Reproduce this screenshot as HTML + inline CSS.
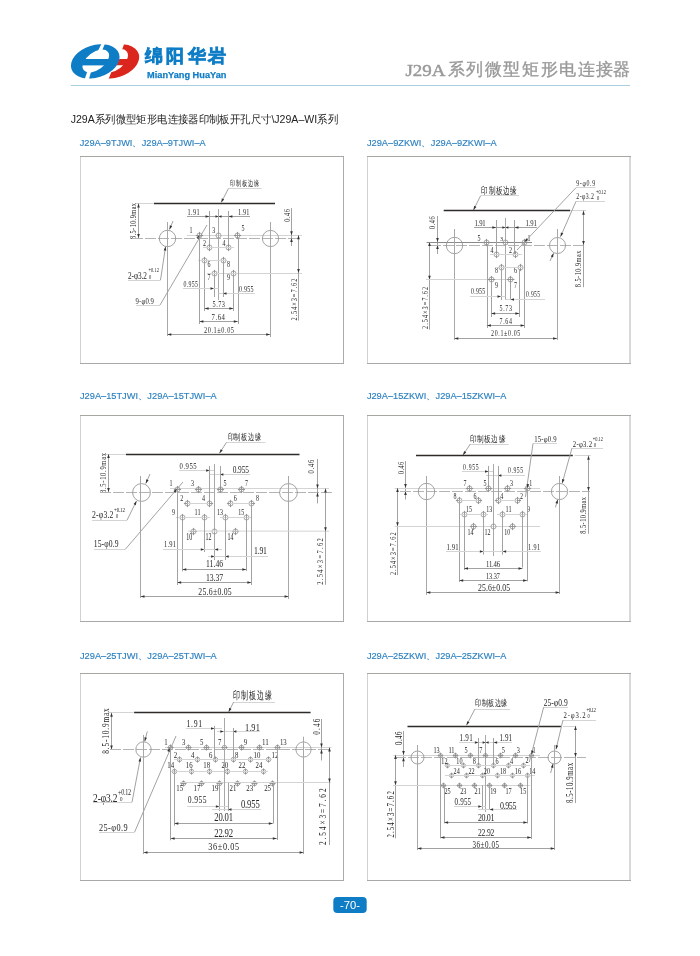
<!DOCTYPE html><html><head><meta charset="utf-8"><style>html,body{margin:0;padding:0;background:#fff;}svg{display:block;will-change:transform}</style></head><body><svg width="700" height="956" viewBox="0 0 700 956"><defs><mask id="mb"><rect x="60" y="35" width="90" height="50" fill="#fff"/><ellipse cx="95.9" cy="61.2" rx="15.2" ry="8.8" transform="rotate(-19 95.9 61.2)" fill="#000"/></mask><mask id="mr"><rect x="60" y="35" width="90" height="50" fill="#fff"/><ellipse cx="114.9" cy="60.8" rx="15.2" ry="9.0" transform="rotate(-20 114.9 60.8)" fill="#000"/></mask><clipPath id="cr"><polygon points="125.5,40 150,40 150,84 107.6,81.5 112.2,70 121.9,50.3"/></clipPath></defs>
<g clip-path="url(#cr)"><ellipse cx="114.85" cy="61.4" rx="25" ry="16.2" transform="rotate(-17.7 114.85 61.4)" fill="#da261d" mask="url(#mr)"/></g>
<polygon points="119.3,59 130,59 130,65.2 116.4,65.2" fill="#da261d"/>
<ellipse cx="95.25" cy="61.4" rx="25" ry="16.2" transform="rotate(-17.7 95.25 61.4)" fill="#0f7dc6" mask="url(#mb)"/>
<rect x="78" y="59" width="33" height="6.4" fill="#0f7dc6"/>
<polygon points="102.35,42 105.6,42 101.5,52 97.35,52" fill="#fff"/>
<polygon points="87.8,70 91.5,70 88.7,80 84.4,80" fill="#fff"/>
<text x="145.2 166.4 187.6 208.2" y="61.9" font-family="Liberation Sans" font-weight="bold" font-size="18.2" fill="#0f7dc6" stroke="#0f7dc6" stroke-width="0.7">绵阳华岩</text>
<text x="147.1" y="77.9" font-family="Liberation Sans" font-weight="bold" font-size="9.9" fill="#0f7dc6" stroke="#0f7dc6" stroke-width="0.25" textLength="79.3" lengthAdjust="spacingAndGlyphs">MianYang HuaYan</text>
<line x1="71" y1="85.5" x2="630" y2="85.5" stroke="#a9cedd" stroke-width="1"/>
<text x="405.5" y="76.2" font-family="Liberation Serif" font-weight="normal" font-size="17.4" fill="#9a9a9a" stroke="#9a9a9a" stroke-width="0.5" textLength="40" lengthAdjust="spacingAndGlyphs">J29A</text>
<text x="447.5 466.1 484.7 503.3 521.9 540.5 559.1 577.7 596.3" y="75.2" font-family="Liberation Serif" font-weight="normal" font-size="16.9" fill="#999" stroke="#999" stroke-width="0.35">系列微型矩形电连接器</text>
<text x="70.7" y="123.2" font-family="Liberation Sans" font-size="11.2" fill="#222" textLength="267.3" lengthAdjust="spacingAndGlyphs">J29A系列微型矩形电连接器印制板开孔尺寸\J29A–WI系列</text>
<text x="79.7" y="145.6" font-family="Liberation Sans" font-size="9.9" fill="#2b80c0" stroke="#2b80c0" stroke-width="0.15" textLength="126" lengthAdjust="spacingAndGlyphs">J29A–9TJWI、J29A–9TJWI–A</text>
<text x="366.9" y="145.5" font-family="Liberation Sans" font-size="9.9" fill="#2b80c0" stroke="#2b80c0" stroke-width="0.15" textLength="129.8" lengthAdjust="spacingAndGlyphs">J29A–9ZKWI、J29A–9ZKWI–A</text>
<text x="80" y="398.9" font-family="Liberation Sans" font-size="9.9" fill="#2b80c0" stroke="#2b80c0" stroke-width="0.15" textLength="136.7" lengthAdjust="spacingAndGlyphs">J29A–15TJWI、J29A–15TJWI–A</text>
<text x="366.9" y="399.2" font-family="Liberation Sans" font-size="9.9" fill="#2b80c0" stroke="#2b80c0" stroke-width="0.15" textLength="139.4" lengthAdjust="spacingAndGlyphs">J29A–15ZKWI、J29A–15ZKWI–A</text>
<text x="80" y="658.7" font-family="Liberation Sans" font-size="9.9" fill="#2b80c0" stroke="#2b80c0" stroke-width="0.15" textLength="136.7" lengthAdjust="spacingAndGlyphs">J29A–25TJWI、J29A–25TJWI–A</text>
<text x="366.9" y="659" font-family="Liberation Sans" font-size="9.9" fill="#2b80c0" stroke="#2b80c0" stroke-width="0.15" textLength="139.4" lengthAdjust="spacingAndGlyphs">J29A–25ZKWI、J29A–25ZKWI–A</text>
<line x1="80" y1="156.5" x2="344" y2="156.5" stroke="#a6a6a3" stroke-width="1"/>
<line x1="80" y1="363.5" x2="344" y2="363.5" stroke="#a8a8a8" stroke-width="1"/>
<line x1="80.5" y1="157" x2="80.5" y2="363" stroke="#d2d1d2" stroke-width="1"/>
<line x1="343.5" y1="157" x2="343.5" y2="363" stroke="#ababab" stroke-width="1"/>
<line x1="367" y1="156.5" x2="631" y2="156.5" stroke="#a6a6a3" stroke-width="1"/>
<line x1="367" y1="363.5" x2="631" y2="363.5" stroke="#a8a8a8" stroke-width="1"/>
<line x1="367.5" y1="157" x2="367.5" y2="363" stroke="#d2d1d2" stroke-width="1"/>
<line x1="630" y1="157" x2="630" y2="363" stroke="#cdcbcd" stroke-width="1.5"/>
<line x1="80" y1="415.5" x2="344" y2="415.5" stroke="#a6a6a3" stroke-width="1"/>
<line x1="80" y1="621.5" x2="344" y2="621.5" stroke="#a8a8a8" stroke-width="1"/>
<line x1="80.5" y1="416" x2="80.5" y2="621" stroke="#d2d1d2" stroke-width="1"/>
<line x1="343.5" y1="416" x2="343.5" y2="621" stroke="#ababab" stroke-width="1"/>
<line x1="367" y1="415.5" x2="631" y2="415.5" stroke="#a6a6a3" stroke-width="1"/>
<line x1="367" y1="621.5" x2="631" y2="621.5" stroke="#a8a8a8" stroke-width="1"/>
<line x1="367.5" y1="416" x2="367.5" y2="621" stroke="#d2d1d2" stroke-width="1"/>
<line x1="630" y1="416" x2="630" y2="621" stroke="#cdcbcd" stroke-width="1.5"/>
<line x1="80" y1="673.5" x2="344" y2="673.5" stroke="#a6a6a3" stroke-width="1"/>
<line x1="80" y1="880.5" x2="344" y2="880.5" stroke="#a8a8a8" stroke-width="1"/>
<line x1="80.5" y1="674" x2="80.5" y2="880" stroke="#d2d1d2" stroke-width="1"/>
<line x1="343.5" y1="674" x2="343.5" y2="880" stroke="#ababab" stroke-width="1"/>
<line x1="367" y1="673.5" x2="631" y2="673.5" stroke="#a6a6a3" stroke-width="1"/>
<line x1="367" y1="880.5" x2="631" y2="880.5" stroke="#a8a8a8" stroke-width="1"/>
<line x1="367.5" y1="674" x2="367.5" y2="880" stroke="#d2d1d2" stroke-width="1"/>
<line x1="630" y1="674" x2="630" y2="880" stroke="#cdcbcd" stroke-width="1.5"/>
<rect x="333.3" y="896.9" width="33.4" height="16.2" rx="4" fill="#0f7dc6"/>
<text x="340" y="909.3" font-family="Liberation Sans" font-size="11.4" fill="#fff" textLength="20" lengthAdjust="spacingAndGlyphs">-70-</text>
<line x1="135.7" y1="203.5" x2="153.5" y2="203.5" stroke="#d4d4d4" stroke-width="1.0"/>
<line x1="153.9" y1="203.5" x2="275" y2="203.5" stroke="#2e2b28" stroke-width="1.5"/>
<text transform="translate(229.8 185.82) scale(0.65 1)" font-family="Liberation Serif" font-size="8.33" fill="#262626" textLength="45.29" lengthAdjust="spacing">印制板边缘</text>
<line x1="228.5" y1="188.5" x2="261.7" y2="188.5" stroke="#d4d4d4" stroke-width="1.0"/>
<line x1="228.5" y1="188.4" x2="221.2" y2="202.5" stroke="#a2a2a2" stroke-width="1.0"/>
<path d="M221.2 202.5L221.88 198.35L224.19 199.55Z" fill="#333"/>
<line x1="138.5" y1="203.5" x2="138.5" y2="238.1" stroke="#a2a2a2" stroke-width="1.0"/>
<path d="M138.5 203.5L139.8 207.5L137.2 207.5Z" fill="#333"/>
<path d="M138.5 238.1L137.2 234.1L139.8 234.1Z" fill="#333"/>
<text transform="translate(136.48 239) rotate(-90) scale(0.72 1)" x="0" y="0" font-family="Liberation Serif" font-size="8.73" fill="#262626" textLength="50" lengthAdjust="spacing">8.5-10.9max</text>
<line x1="132" y1="238.5" x2="300" y2="238.5" stroke="#b4b4b4" stroke-width="1.0" stroke-dasharray="11 2"/>
<line x1="187" y1="235.5" x2="302" y2="235.5" stroke="#d4d4d4" stroke-width="1.0"/>
<circle cx="167.5" cy="238.5" r="8.2" fill="none" stroke="#8c8c8c" stroke-width="0.8"/>
<line x1="167.5" y1="222" x2="167.5" y2="336" stroke="#a8a8a8" stroke-width="1.0"/>
<circle cx="270.5" cy="238.5" r="8.1" fill="none" stroke="#8c8c8c" stroke-width="0.8"/>
<line x1="270.5" y1="222" x2="270.5" y2="337" stroke="#a8a8a8" stroke-width="1.0"/>
<text transform="translate(128 279) scale(0.74 1)" font-family="Liberation Serif" font-size="9.85" font-weight="normal" fill="#262626" textLength="25.68" lengthAdjust="spacing">2-φ3.2</text>
<text transform="translate(148.5 271.5) scale(0.74 1)" font-family="Liberation Serif" font-size="6.06" font-weight="normal" fill="#262626" textLength="14.19" lengthAdjust="spacing">+0.12</text>
<text transform="translate(149 278.5) scale(0.74 1)" font-family="Liberation Serif" font-size="6.06" font-weight="normal" fill="#262626" textLength="4.05" lengthAdjust="spacing">0</text>
<line x1="128" y1="280.5" x2="160.5" y2="280.5" stroke="#d4d4d4" stroke-width="1.0"/>
<line x1="160.5" y1="280" x2="165.6" y2="246.5" stroke="#a2a2a2" stroke-width="1.0"/>
<path d="M165.6 246.5L166.28 250.65L163.71 250.26Z" fill="#333"/>
<line x1="173" y1="221" x2="169.5" y2="229.5" stroke="#a2a2a2" stroke-width="1.0"/>
<path d="M169.5 229.5L169.82 225.31L172.23 226.3Z" fill="#333"/>
<text transform="translate(135.6 304) scale(0.74 1)" font-family="Liberation Serif" font-size="9.09" font-weight="normal" fill="#262626" textLength="24.86" lengthAdjust="spacing">9-φ0.9</text>
<line x1="136" y1="305.5" x2="160" y2="305.5" stroke="#d4d4d4" stroke-width="1.0"/>
<line x1="160" y1="305" x2="207" y2="225" stroke="#a2a2a2" stroke-width="1.0"/>
<path d="M199.5 235L198.67 239.12L196.4 237.84Z" fill="#333"/>
<text transform="translate(187.5 215.1) scale(0.74 1)" font-family="Liberation Serif" font-size="8.48" font-weight="normal" fill="#262626" textLength="16.35" lengthAdjust="spacing">1.91</text>
<line x1="187" y1="216.5" x2="228.4" y2="216.5" stroke="#a2a2a2" stroke-width="1.0"/>
<path d="M209.5 216.5L205.5 217.8L205.5 215.2Z" fill="#333"/>
<path d="M218.5 216.5L215.5 217.8L215.5 215.2Z" fill="#333"/>
<path d="M218.5 216.5L221.5 215.2L221.5 217.8Z" fill="#333"/>
<text transform="translate(238 215.1) scale(0.74 1)" font-family="Liberation Serif" font-size="8.48" font-weight="normal" fill="#262626" textLength="15.54" lengthAdjust="spacing">1.91</text>
<line x1="228.4" y1="216.5" x2="250" y2="216.5" stroke="#a2a2a2" stroke-width="1.0"/>
<path d="M228.4 216.5L232.4 215.2L232.4 217.8Z" fill="#333"/>
<line x1="209.5" y1="211" x2="209.5" y2="247.3" stroke="#a2a2a2" stroke-width="1.0"/>
<line x1="228.5" y1="211" x2="228.5" y2="247.3" stroke="#a2a2a2" stroke-width="1.0"/>
<line x1="218.5" y1="209" x2="218.5" y2="300" stroke="#a8a8a8" stroke-width="1.0"/>
<text transform="translate(289.68 221.8) rotate(-90) scale(0.72 1)" x="0" y="0" font-family="Liberation Serif" font-size="8.73" fill="#262626" textLength="17.78" lengthAdjust="spacing">0.46</text>
<line x1="291.5" y1="208" x2="291.5" y2="246" stroke="#a2a2a2" stroke-width="1.0"/>
<path d="M291.5 235.2L290.2 231.2L292.8 231.2Z" fill="#333"/>
<path d="M291.5 238.1L292.8 242.1L290.2 242.1Z" fill="#333"/>
<circle cx="199.5" cy="235.5" r="2.5" fill="none" stroke="#8a8a8a" stroke-width="0.75"/>
<path d="M195.9 235.5H203.1M199.5 231.9V239.1" stroke="#8e8e8e" stroke-width="0.9" fill="none"/>
<circle cx="237.5" cy="235.5" r="2.5" fill="none" stroke="#8a8a8a" stroke-width="0.75"/>
<path d="M233.9 235.5H241.1M237.5 231.9V239.1" stroke="#8e8e8e" stroke-width="0.9" fill="none"/>
<circle cx="209.5" cy="247.5" r="2.5" fill="none" stroke="#8a8a8a" stroke-width="0.75"/>
<path d="M205.9 247.5H213.1M209.5 243.9V251.1" stroke="#8e8e8e" stroke-width="0.9" fill="none"/>
<circle cx="228.5" cy="247.5" r="2.5" fill="none" stroke="#8a8a8a" stroke-width="0.75"/>
<path d="M224.9 247.5H232.1M228.5 243.9V251.1" stroke="#8e8e8e" stroke-width="0.9" fill="none"/>
<circle cx="204.5" cy="260.5" r="2.5" fill="none" stroke="#8a8a8a" stroke-width="0.75"/>
<path d="M200.9 260.5H208.1M204.5 256.9V264.1" stroke="#8e8e8e" stroke-width="0.9" fill="none"/>
<circle cx="223.5" cy="260.5" r="2.5" fill="none" stroke="#8a8a8a" stroke-width="0.75"/>
<path d="M219.9 260.5H227.1M223.5 256.9V264.1" stroke="#8e8e8e" stroke-width="0.9" fill="none"/>
<circle cx="214.5" cy="273.5" r="2.5" fill="none" stroke="#8a8a8a" stroke-width="0.75"/>
<path d="M210.9 273.5H218.1M214.5 269.9V277.1" stroke="#8e8e8e" stroke-width="0.9" fill="none"/>
<circle cx="233.5" cy="273.5" r="2.5" fill="none" stroke="#8a8a8a" stroke-width="0.75"/>
<path d="M229.9 273.5H237.1M233.5 269.9V277.1" stroke="#8e8e8e" stroke-width="0.9" fill="none"/>
<circle cx="218.5" cy="235.5" r="2.5" fill="none" stroke="#8a8a8a" stroke-width="0.75"/>
<text x="189.5" y="233.19" font-family="Liberation Serif" font-size="8.59" fill="#262626" textLength="3" lengthAdjust="spacingAndGlyphs">1</text>
<text x="212.3" y="232.68" font-family="Liberation Serif" font-size="8.86" fill="#262626" textLength="3" lengthAdjust="spacingAndGlyphs">3</text>
<text x="241.4" y="230.87" font-family="Liberation Serif" font-size="9" fill="#262626" textLength="3" lengthAdjust="spacingAndGlyphs">5</text>
<text x="202.9" y="246.22" font-family="Liberation Serif" font-size="7.77" fill="#262626" textLength="3" lengthAdjust="spacingAndGlyphs">2</text>
<text x="222.5" y="246.2" font-family="Liberation Serif" font-size="8.18" fill="#262626" textLength="3" lengthAdjust="spacingAndGlyphs">4</text>
<text x="207.5" y="267.2" font-family="Liberation Serif" font-size="8.18" fill="#262626" textLength="3" lengthAdjust="spacingAndGlyphs">6</text>
<text x="226.9" y="267.2" font-family="Liberation Serif" font-size="8.18" fill="#262626" textLength="3" lengthAdjust="spacingAndGlyphs">8</text>
<text x="207.5" y="280.2" font-family="Liberation Serif" font-size="8.18" fill="#262626" textLength="3" lengthAdjust="spacingAndGlyphs">7</text>
<text x="226.9" y="280.2" font-family="Liberation Serif" font-size="8.18" fill="#262626" textLength="3" lengthAdjust="spacingAndGlyphs">9</text>
<line x1="203" y1="247.5" x2="234" y2="247.5" stroke="#d4d4d4" stroke-width="1.0"/>
<line x1="198" y1="260.5" x2="227" y2="260.5" stroke="#d4d4d4" stroke-width="1.0"/>
<line x1="207" y1="273.5" x2="302" y2="273.5" stroke="#d4d4d4" stroke-width="1.0"/>
<line x1="199.5" y1="238" x2="199.5" y2="324" stroke="#a2a2a2" stroke-width="1.0"/>
<line x1="238.5" y1="238" x2="238.5" y2="324" stroke="#a2a2a2" stroke-width="1.0"/>
<line x1="204.5" y1="262" x2="204.5" y2="311" stroke="#a2a2a2" stroke-width="1.0"/>
<line x1="233.5" y1="275" x2="233.5" y2="311" stroke="#a2a2a2" stroke-width="1.0"/>
<line x1="214.5" y1="275" x2="214.5" y2="297" stroke="#a2a2a2" stroke-width="1.0"/>
<line x1="223.5" y1="262" x2="223.5" y2="297" stroke="#a2a2a2" stroke-width="1.0"/>
<text transform="translate(183.6 287.2) scale(0.74 1)" font-family="Liberation Serif" font-size="7.88" font-weight="normal" fill="#262626" textLength="19.46" lengthAdjust="spacing">0.955</text>
<line x1="183" y1="288.5" x2="218.6" y2="288.5" stroke="#d4d4d4" stroke-width="1.0"/>
<path d="M214 288.5L210.5 289.8L210.5 287.2Z" fill="#333"/>
<text transform="translate(239 292) scale(0.74 1)" font-family="Liberation Serif" font-size="8.18" font-weight="normal" fill="#262626" textLength="19.73" lengthAdjust="spacing">0.955</text>
<line x1="218.6" y1="293.5" x2="255" y2="293.5" stroke="#d4d4d4" stroke-width="1.0"/>
<path d="M223 293.5L226.5 292.2L226.5 294.8Z" fill="#333"/>
<text transform="translate(212.5 307) scale(0.74 1)" font-family="Liberation Serif" font-size="8.48" font-weight="normal" fill="#262626" textLength="16.89" lengthAdjust="spacing">5.73</text>
<line x1="204.6" y1="308.5" x2="233.4" y2="308.5" stroke="#a2a2a2" stroke-width="1.0"/>
<path d="M204.6 308.5L208.6 307.2L208.6 309.8Z" fill="#333"/>
<path d="M233.4 308.5L229.4 309.8L229.4 307.2Z" fill="#333"/>
<text transform="translate(211.5 320) scale(0.74 1)" font-family="Liberation Serif" font-size="9.09" font-weight="normal" fill="#262626" textLength="18.24" lengthAdjust="spacing">7.64</text>
<line x1="199.4" y1="321.5" x2="237.8" y2="321.5" stroke="#a2a2a2" stroke-width="1.0"/>
<path d="M199.4 321.5L203.4 320.2L203.4 322.8Z" fill="#333"/>
<path d="M237.8 321.5L233.8 322.8L233.8 320.2Z" fill="#333"/>
<text transform="translate(204 333) scale(0.74 1)" font-family="Liberation Serif" font-size="8.48" font-weight="normal" fill="#262626" textLength="40.54" lengthAdjust="spacing">20.1±0.05</text>
<line x1="167.3" y1="334.5" x2="270.2" y2="334.5" stroke="#a2a2a2" stroke-width="1.0"/>
<path d="M167.3 334.5L171.3 333.2L171.3 335.8Z" fill="#333"/>
<path d="M270.2 334.5L266.2 335.8L266.2 333.2Z" fill="#333"/>
<text transform="translate(297.18 320.6) rotate(-90) scale(0.72 1)" x="0" y="0" font-family="Liberation Serif" font-size="8.73" fill="#262626" textLength="58.19" lengthAdjust="spacing">2.54×3=7.62</text>
<line x1="298.5" y1="235.2" x2="298.5" y2="320.6" stroke="#a2a2a2" stroke-width="1.0"/>
<path d="M298.5 235.2L299.8 239.2L297.2 239.2Z" fill="#333"/>
<path d="M298.5 272.9L297.2 268.9L299.8 268.9Z" fill="#333"/>
<text transform="translate(481.4 193.52) scale(0.66 1)" font-family="Liberation Serif" font-size="9.78" fill="#262626" textLength="53.14" lengthAdjust="spacing">印制板边缘</text>
<line x1="480.6" y1="195.5" x2="519" y2="195.5" stroke="#d4d4d4" stroke-width="1.0"/>
<line x1="480.6" y1="195.7" x2="473.5" y2="210" stroke="#a2a2a2" stroke-width="1.0"/>
<path d="M473.5 210L474.11 205.84L476.44 207Z" fill="#333"/>
<line x1="443.7" y1="210.5" x2="570.3" y2="210.5" stroke="#2e2b28" stroke-width="1.5"/>
<line x1="570.3" y1="210.5" x2="586" y2="210.5" stroke="#d4d4d4" stroke-width="1.0"/>
<text transform="translate(434.88 229.1) rotate(-90) scale(0.72 1)" x="0" y="0" font-family="Liberation Serif" font-size="8.73" fill="#262626" textLength="17.78" lengthAdjust="spacing">0.46</text>
<line x1="437.5" y1="216" x2="437.5" y2="254" stroke="#a2a2a2" stroke-width="1.0"/>
<path d="M437.5 242L436.2 238L438.8 238Z" fill="#333"/>
<path d="M437.5 244.9L438.8 248.9L436.2 248.9Z" fill="#333"/>
<line x1="426.6" y1="242.5" x2="532" y2="242.5" stroke="#8a8a8a" stroke-width="1.0"/>
<line x1="430" y1="245.5" x2="586" y2="245.5" stroke="#b4b4b4" stroke-width="1.0" stroke-dasharray="11 2"/>
<circle cx="454.5" cy="245.5" r="8.2" fill="none" stroke="#8c8c8c" stroke-width="0.8"/>
<line x1="454.5" y1="229" x2="454.5" y2="340" stroke="#a8a8a8" stroke-width="1.0"/>
<circle cx="557.5" cy="245.5" r="8" fill="none" stroke="#8c8c8c" stroke-width="0.8"/>
<line x1="557.5" y1="229" x2="557.5" y2="340" stroke="#a8a8a8" stroke-width="1.0"/>
<line x1="429.5" y1="242" x2="429.5" y2="329.7" stroke="#a2a2a2" stroke-width="1.0"/>
<path d="M429.5 242L430.8 246L428.2 246Z" fill="#333"/>
<path d="M429.5 279.7L428.2 275.7L430.8 275.7Z" fill="#333"/>
<text transform="translate(427.98 328.9) rotate(-90) scale(0.72 1)" x="0" y="0" font-family="Liberation Serif" font-size="8.73" fill="#262626" textLength="58.33" lengthAdjust="spacing">2.54×3=7.62</text>
<line x1="426" y1="279.5" x2="515" y2="279.5" stroke="#d4d4d4" stroke-width="1.0"/>
<text transform="translate(474.6 225.7) scale(0.74 1)" font-family="Liberation Serif" font-size="9.09" font-weight="normal" fill="#262626" textLength="15" lengthAdjust="spacing">1.91</text>
<line x1="474" y1="227.5" x2="537" y2="227.5" stroke="#a2a2a2" stroke-width="1.0"/>
<path d="M496.3 227.5L492.3 228.8L492.3 226.2Z" fill="#333"/>
<path d="M505.4 227.5L502.4 228.8L502.4 226.2Z" fill="#333"/>
<path d="M505.4 227.5L508.4 226.2L508.4 228.8Z" fill="#333"/>
<path d="M514.5 227.5L518.5 226.2L518.5 228.8Z" fill="#333"/>
<text transform="translate(525.4 225.7) scale(0.74 1)" font-family="Liberation Serif" font-size="9.09" font-weight="normal" fill="#262626" textLength="15.54" lengthAdjust="spacing">1.91</text>
<line x1="496.5" y1="220" x2="496.5" y2="254.3" stroke="#a2a2a2" stroke-width="1.0"/>
<line x1="514.5" y1="220" x2="514.5" y2="254.3" stroke="#a2a2a2" stroke-width="1.0"/>
<line x1="505.5" y1="218" x2="505.5" y2="300" stroke="#a8a8a8" stroke-width="1.0"/>
<circle cx="486.5" cy="242.5" r="2.5" fill="none" stroke="#8a8a8a" stroke-width="0.75"/>
<path d="M482.9 242.5H490.1M486.5 238.9V246.1" stroke="#8e8e8e" stroke-width="0.9" fill="none"/>
<circle cx="524.5" cy="242.5" r="2.5" fill="none" stroke="#8a8a8a" stroke-width="0.75"/>
<path d="M520.9 242.5H528.1M524.5 238.9V246.1" stroke="#8e8e8e" stroke-width="0.9" fill="none"/>
<circle cx="496.5" cy="254.5" r="2.5" fill="none" stroke="#8a8a8a" stroke-width="0.75"/>
<path d="M492.9 254.5H500.1M496.5 250.9V258.1" stroke="#8e8e8e" stroke-width="0.9" fill="none"/>
<circle cx="515.5" cy="254.5" r="2.5" fill="none" stroke="#8a8a8a" stroke-width="0.75"/>
<path d="M511.9 254.5H519.1M515.5 250.9V258.1" stroke="#8e8e8e" stroke-width="0.9" fill="none"/>
<circle cx="501.5" cy="267.5" r="2.5" fill="none" stroke="#8a8a8a" stroke-width="0.75"/>
<path d="M497.9 267.5H505.1M501.5 263.9V271.1" stroke="#8e8e8e" stroke-width="0.9" fill="none"/>
<circle cx="520.5" cy="267.5" r="2.5" fill="none" stroke="#8a8a8a" stroke-width="0.75"/>
<path d="M516.9 267.5H524.1M520.5 263.9V271.1" stroke="#8e8e8e" stroke-width="0.9" fill="none"/>
<circle cx="491.5" cy="279.5" r="2.5" fill="none" stroke="#8a8a8a" stroke-width="0.75"/>
<path d="M487.9 279.5H495.1M491.5 275.9V283.1" stroke="#8e8e8e" stroke-width="0.9" fill="none"/>
<circle cx="510.5" cy="279.5" r="2.5" fill="none" stroke="#8a8a8a" stroke-width="0.75"/>
<path d="M506.9 279.5H514.1M510.5 275.9V283.1" stroke="#8e8e8e" stroke-width="0.9" fill="none"/>
<circle cx="505.5" cy="242.5" r="2.5" fill="none" stroke="#8a8a8a" stroke-width="0.75"/>
<text x="477.5" y="240.54" font-family="Liberation Serif" font-size="7.23" fill="#262626" textLength="3" lengthAdjust="spacingAndGlyphs">5</text>
<text x="500" y="240.74" font-family="Liberation Serif" font-size="7.09" fill="#262626" textLength="3" lengthAdjust="spacingAndGlyphs">3</text>
<text x="527.5" y="240.72" font-family="Liberation Serif" font-size="7.5" fill="#262626" textLength="3" lengthAdjust="spacingAndGlyphs">1</text>
<text x="490.5" y="252.54" font-family="Liberation Serif" font-size="7.23" fill="#262626" textLength="3" lengthAdjust="spacingAndGlyphs">4</text>
<text x="509" y="252.54" font-family="Liberation Serif" font-size="7.23" fill="#262626" textLength="3" lengthAdjust="spacingAndGlyphs">2</text>
<text x="495" y="273.23" font-family="Liberation Serif" font-size="7.5" fill="#262626" textLength="3" lengthAdjust="spacingAndGlyphs">8</text>
<text x="514" y="273.23" font-family="Liberation Serif" font-size="7.5" fill="#262626" textLength="3" lengthAdjust="spacingAndGlyphs">6</text>
<text x="495" y="287.51" font-family="Liberation Serif" font-size="7.91" fill="#262626" textLength="3" lengthAdjust="spacingAndGlyphs">9</text>
<text x="514" y="287.51" font-family="Liberation Serif" font-size="7.91" fill="#262626" textLength="3" lengthAdjust="spacingAndGlyphs">7</text>
<line x1="490" y1="254.5" x2="522" y2="254.5" stroke="#d4d4d4" stroke-width="1.0"/>
<line x1="495" y1="267.5" x2="525" y2="267.5" stroke="#d4d4d4" stroke-width="1.0"/>
<line x1="487.5" y1="244" x2="487.5" y2="328" stroke="#a2a2a2" stroke-width="1.0"/>
<line x1="524.5" y1="244" x2="524.5" y2="328" stroke="#a2a2a2" stroke-width="1.0"/>
<line x1="491.5" y1="282" x2="491.5" y2="317" stroke="#a2a2a2" stroke-width="1.0"/>
<line x1="519.5" y1="269" x2="519.5" y2="317" stroke="#a2a2a2" stroke-width="1.0"/>
<line x1="501.5" y1="269" x2="501.5" y2="300" stroke="#a2a2a2" stroke-width="1.0"/>
<line x1="510.5" y1="282" x2="510.5" y2="300" stroke="#a2a2a2" stroke-width="1.0"/>
<text transform="translate(471.1 294.2) scale(0.74 1)" font-family="Liberation Serif" font-size="7.88" font-weight="normal" fill="#262626" textLength="18.92" lengthAdjust="spacing">0.955</text>
<line x1="470" y1="296.5" x2="505.4" y2="296.5" stroke="#d4d4d4" stroke-width="1.0"/>
<path d="M501 296.5L497.5 297.8L497.5 295.2Z" fill="#333"/>
<text transform="translate(526 297) scale(0.74 1)" font-family="Liberation Serif" font-size="7.58" font-weight="normal" fill="#262626" textLength="18.92" lengthAdjust="spacing">0.955</text>
<line x1="505.4" y1="299.5" x2="545" y2="299.5" stroke="#d4d4d4" stroke-width="1.0"/>
<path d="M510.5 299.5L514 298.2L514 300.8Z" fill="#333"/>
<text transform="translate(499.5 311) scale(0.74 1)" font-family="Liberation Serif" font-size="8.03" font-weight="normal" fill="#262626" textLength="16.89" lengthAdjust="spacing">5.73</text>
<line x1="491.1" y1="313.5" x2="519.4" y2="313.5" stroke="#a2a2a2" stroke-width="1.0"/>
<path d="M491.1 313.5L495.1 312.2L495.1 314.8Z" fill="#333"/>
<path d="M519.4 313.5L515.4 314.8L515.4 312.2Z" fill="#333"/>
<text transform="translate(499.5 323.9) scale(0.74 1)" font-family="Liberation Serif" font-size="8.03" font-weight="normal" fill="#262626" textLength="16.89" lengthAdjust="spacing">7.64</text>
<line x1="486.9" y1="325.5" x2="524.6" y2="325.5" stroke="#a2a2a2" stroke-width="1.0"/>
<path d="M486.9 325.5L490.9 324.2L490.9 326.8Z" fill="#333"/>
<path d="M524.6 325.5L520.6 326.8L520.6 324.2Z" fill="#333"/>
<text transform="translate(491.1 335.9) scale(0.74 1)" font-family="Liberation Serif" font-size="8.03" font-weight="normal" fill="#262626" textLength="39.46" lengthAdjust="spacing">20.1±0.05</text>
<line x1="454.3" y1="338.5" x2="557.1" y2="338.5" stroke="#a2a2a2" stroke-width="1.0"/>
<path d="M454.3 338.5L458.3 337.2L458.3 339.8Z" fill="#333"/>
<path d="M557.1 338.5L553.1 339.8L553.1 337.2Z" fill="#333"/>
<text transform="translate(576.3 186.3) scale(0.74 1)" font-family="Liberation Serif" font-size="8.03" font-weight="normal" fill="#262626" textLength="25.41" lengthAdjust="spacing">9-φ0.9</text>
<line x1="576" y1="187.5" x2="595.5" y2="187.5" stroke="#d4d4d4" stroke-width="1.0"/>
<line x1="576" y1="187.7" x2="517" y2="250" stroke="#a2a2a2" stroke-width="1.0"/>
<path d="M524.5 242L526.31 238.21L528.2 240Z" fill="#333"/>
<text transform="translate(576.3 199.2) scale(0.74 1)" font-family="Liberation Serif" font-size="7.88" font-weight="normal" fill="#262626" textLength="23.92" lengthAdjust="spacing">2-φ3.2</text>
<text transform="translate(596 193.5) scale(0.74 1)" font-family="Liberation Serif" font-size="6.06" font-weight="normal" fill="#262626" textLength="13.51" lengthAdjust="spacing">+0.12</text>
<text transform="translate(597 199.5) scale(0.74 1)" font-family="Liberation Serif" font-size="6.06" font-weight="normal" fill="#262626" textLength="4.05" lengthAdjust="spacing">0</text>
<line x1="576" y1="201.5" x2="605" y2="201.5" stroke="#d4d4d4" stroke-width="1.0"/>
<line x1="576" y1="201.4" x2="560.5" y2="236.7" stroke="#a2a2a2" stroke-width="1.0"/>
<path d="M560.5 236.7L560.92 232.51L563.3 233.56Z" fill="#333"/>
<line x1="550" y1="261" x2="553.6" y2="253.2" stroke="#a2a2a2" stroke-width="1.0"/>
<path d="M553.6 253.2L553.1 257.38L550.74 256.29Z" fill="#333"/>
<line x1="583.5" y1="210.6" x2="583.5" y2="287.2" stroke="#a2a2a2" stroke-width="1.0"/>
<path d="M583.5 210.8L584.8 214.8L582.2 214.8Z" fill="#333"/>
<path d="M583.5 244.9L582.2 240.9L584.8 240.9Z" fill="#333"/>
<text transform="translate(581.28 287.2) rotate(-90) scale(0.72 1)" x="0" y="0" font-family="Liberation Serif" font-size="8.73" fill="#262626" textLength="50.83" lengthAdjust="spacing">8.5-10.9max</text>
<line x1="102" y1="454.5" x2="125.5" y2="454.5" stroke="#d4d4d4" stroke-width="1.0"/>
<line x1="125.9" y1="454.5" x2="299.5" y2="454.5" stroke="#2e2b28" stroke-width="1.5"/>
<text transform="translate(227.7 440.28) scale(0.69 1)" font-family="Liberation Serif" font-size="8.89" fill="#262626" textLength="48.31" lengthAdjust="spacing">印制板边缘</text>
<line x1="226.5" y1="442.5" x2="265.4" y2="442.5" stroke="#d4d4d4" stroke-width="1.0"/>
<line x1="226.5" y1="442.3" x2="219.5" y2="453.2" stroke="#a2a2a2" stroke-width="1.0"/>
<path d="M219.5 453.2L220.57 449.13L222.76 450.54Z" fill="#333"/>
<line x1="108.5" y1="454" x2="108.5" y2="492" stroke="#a2a2a2" stroke-width="1.0"/>
<path d="M108.5 454L109.8 458L107.2 458Z" fill="#333"/>
<path d="M108.5 492L107.2 488L109.8 488Z" fill="#333"/>
<text transform="translate(105.7 493) rotate(-90) scale(0.72 1)" x="0" y="0" font-family="Liberation Serif" font-size="9.09" fill="#262626" textLength="55.56" lengthAdjust="spacing">8.5-10.9max</text>
<line x1="100" y1="492.5" x2="332" y2="492.5" stroke="#b4b4b4" stroke-width="1.0" stroke-dasharray="11 2"/>
<line x1="170" y1="488.5" x2="329" y2="488.5" stroke="#d4d4d4" stroke-width="1.0"/>
<circle cx="141.5" cy="492.5" r="8.9" fill="none" stroke="#8c8c8c" stroke-width="0.8"/>
<line x1="140.5" y1="476" x2="140.5" y2="598" stroke="#a8a8a8" stroke-width="1.0"/>
<circle cx="288.5" cy="492.5" r="8.9" fill="none" stroke="#8c8c8c" stroke-width="0.8"/>
<line x1="288.5" y1="476" x2="288.5" y2="599" stroke="#a8a8a8" stroke-width="1.0"/>
<text transform="translate(179.6 469.1) scale(0.74 1)" font-family="Liberation Serif" font-size="9.09" font-weight="normal" fill="#262626" textLength="23.11" lengthAdjust="spacing">0.955</text>
<line x1="179" y1="470.5" x2="214.7" y2="470.5" stroke="#d4d4d4" stroke-width="1.0"/>
<path d="M209.6 470.5L206.1 471.8L206.1 469.2Z" fill="#333"/>
<text transform="translate(232.7 472.6) scale(0.74 1)" font-family="Liberation Serif" font-size="10" font-weight="normal" fill="#262626" textLength="22.03" lengthAdjust="spacing">0.955</text>
<line x1="210" y1="474.5" x2="250" y2="474.5" stroke="#d4d4d4" stroke-width="1.0"/>
<path d="M219.9 474.5L223.4 473.2L223.4 475.8Z" fill="#333"/>
<line x1="209.5" y1="466" x2="209.5" y2="503" stroke="#a2a2a2" stroke-width="1.0"/>
<line x1="214.5" y1="464" x2="214.5" y2="560" stroke="#a8a8a8" stroke-width="1.0"/>
<line x1="220.5" y1="466" x2="220.5" y2="489" stroke="#a2a2a2" stroke-width="1.0"/>
<circle cx="177.5" cy="489.5" r="2.5" fill="none" stroke="#8a8a8a" stroke-width="0.75"/>
<path d="M173.9 489.5H181.1M177.5 485.9V493.1" stroke="#8e8e8e" stroke-width="0.9" fill="none"/>
<circle cx="198.5" cy="489.5" r="2.5" fill="none" stroke="#8a8a8a" stroke-width="0.75"/>
<path d="M194.9 489.5H202.1M198.5 485.9V493.1" stroke="#8e8e8e" stroke-width="0.9" fill="none"/>
<circle cx="220.5" cy="489.5" r="2.5" fill="none" stroke="#8a8a8a" stroke-width="0.75"/>
<path d="M216.9 489.5H224.1M220.5 485.9V493.1" stroke="#8e8e8e" stroke-width="0.9" fill="none"/>
<circle cx="241.5" cy="489.5" r="2.5" fill="none" stroke="#8a8a8a" stroke-width="0.75"/>
<path d="M237.9 489.5H245.1M241.5 485.9V493.1" stroke="#8e8e8e" stroke-width="0.9" fill="none"/>
<circle cx="187.5" cy="503.5" r="2.5" fill="none" stroke="#8a8a8a" stroke-width="0.75"/>
<path d="M183.9 503.5H191.1M187.5 499.9V507.1" stroke="#8e8e8e" stroke-width="0.9" fill="none"/>
<circle cx="209.5" cy="503.5" r="2.5" fill="none" stroke="#8a8a8a" stroke-width="0.75"/>
<path d="M205.9 503.5H213.1M209.5 499.9V507.1" stroke="#8e8e8e" stroke-width="0.9" fill="none"/>
<circle cx="230.5" cy="503.5" r="2.5" fill="none" stroke="#8a8a8a" stroke-width="0.75"/>
<path d="M226.9 503.5H234.1M230.5 499.9V507.1" stroke="#8e8e8e" stroke-width="0.9" fill="none"/>
<circle cx="251.5" cy="503.5" r="2.5" fill="none" stroke="#8a8a8a" stroke-width="0.75"/>
<path d="M247.9 503.5H255.1M251.5 499.9V507.1" stroke="#8e8e8e" stroke-width="0.9" fill="none"/>
<circle cx="182.5" cy="517.5" r="2.5" fill="none" stroke="#8a8a8a" stroke-width="0.75"/>
<path d="M178.9 517.5H186.1M182.5 513.9V521.1" stroke="#8e8e8e" stroke-width="0.9" fill="none"/>
<circle cx="204.5" cy="517.5" r="2.5" fill="none" stroke="#8a8a8a" stroke-width="0.75"/>
<path d="M200.9 517.5H208.1M204.5 513.9V521.1" stroke="#8e8e8e" stroke-width="0.9" fill="none"/>
<circle cx="225.5" cy="517.5" r="2.5" fill="none" stroke="#8a8a8a" stroke-width="0.75"/>
<path d="M221.9 517.5H229.1M225.5 513.9V521.1" stroke="#8e8e8e" stroke-width="0.9" fill="none"/>
<circle cx="246.5" cy="517.5" r="2.5" fill="none" stroke="#8a8a8a" stroke-width="0.75"/>
<path d="M242.9 517.5H250.1M246.5 513.9V521.1" stroke="#8e8e8e" stroke-width="0.9" fill="none"/>
<circle cx="193.5" cy="531.5" r="2.5" fill="none" stroke="#8a8a8a" stroke-width="0.75"/>
<path d="M189.9 531.5H197.1M193.5 527.9V535.1" stroke="#8e8e8e" stroke-width="0.9" fill="none"/>
<circle cx="235.5" cy="531.5" r="2.5" fill="none" stroke="#8a8a8a" stroke-width="0.75"/>
<path d="M231.9 531.5H239.1M235.5 527.9V535.1" stroke="#8e8e8e" stroke-width="0.9" fill="none"/>
<circle cx="214.5" cy="531.5" r="2.5" fill="none" stroke="#8a8a8a" stroke-width="0.75"/>
<text x="169.5" y="486.29" font-family="Liberation Serif" font-size="8.59" fill="#262626" textLength="3" lengthAdjust="spacingAndGlyphs">1</text>
<text x="190.9" y="486.27" font-family="Liberation Serif" font-size="9" fill="#262626" textLength="3" lengthAdjust="spacingAndGlyphs">3</text>
<text x="223.5" y="486.27" font-family="Liberation Serif" font-size="9" fill="#262626" textLength="3" lengthAdjust="spacingAndGlyphs">5</text>
<text x="244.9" y="486.27" font-family="Liberation Serif" font-size="9" fill="#262626" textLength="3" lengthAdjust="spacingAndGlyphs">7</text>
<text x="180.3" y="500.68" font-family="Liberation Serif" font-size="8.86" fill="#262626" textLength="3" lengthAdjust="spacingAndGlyphs">2</text>
<text x="202.1" y="500.68" font-family="Liberation Serif" font-size="8.86" fill="#262626" textLength="3" lengthAdjust="spacingAndGlyphs">4</text>
<text x="233.8" y="500.68" font-family="Liberation Serif" font-size="8.86" fill="#262626" textLength="3" lengthAdjust="spacingAndGlyphs">6</text>
<text x="256.1" y="500.68" font-family="Liberation Serif" font-size="8.86" fill="#262626" textLength="3" lengthAdjust="spacingAndGlyphs">8</text>
<text x="172.1" y="514.68" font-family="Liberation Serif" font-size="8.73" fill="#262626" textLength="3" lengthAdjust="spacingAndGlyphs">9</text>
<text x="194.6" y="514.68" font-family="Liberation Serif" font-size="8.73" fill="#262626" textLength="6" lengthAdjust="spacingAndGlyphs">11</text>
<text x="216.9" y="514.68" font-family="Liberation Serif" font-size="8.73" fill="#262626" textLength="6" lengthAdjust="spacingAndGlyphs">13</text>
<text x="238.3" y="514.68" font-family="Liberation Serif" font-size="8.73" fill="#262626" textLength="6" lengthAdjust="spacingAndGlyphs">15</text>
<text x="186.3" y="540.25" font-family="Liberation Serif" font-size="9.41" fill="#262626" textLength="6" lengthAdjust="spacingAndGlyphs">10</text>
<text x="205.5" y="540.25" font-family="Liberation Serif" font-size="9.41" fill="#262626" textLength="6" lengthAdjust="spacingAndGlyphs">12</text>
<text x="227.4" y="540.25" font-family="Liberation Serif" font-size="9.41" fill="#262626" textLength="6" lengthAdjust="spacingAndGlyphs">14</text>
<line x1="187.3" y1="503.5" x2="209.2" y2="503.5" stroke="#d4d4d4" stroke-width="1.0"/>
<line x1="230.1" y1="503.5" x2="251.6" y2="503.5" stroke="#d4d4d4" stroke-width="1.0"/>
<line x1="176" y1="517.5" x2="210" y2="517.5" stroke="#d4d4d4" stroke-width="1.0"/>
<line x1="220" y1="517.5" x2="252" y2="517.5" stroke="#d4d4d4" stroke-width="1.0"/>
<line x1="188" y1="531" x2="329" y2="531.2" stroke="#d4d4d4" stroke-width="1.0"/>
<line x1="177.5" y1="489" x2="177.5" y2="585" stroke="#a2a2a2" stroke-width="1.0"/>
<line x1="182.5" y1="517" x2="182.5" y2="571.4" stroke="#a2a2a2" stroke-width="1.0"/>
<line x1="204.5" y1="517" x2="204.5" y2="552" stroke="#a2a2a2" stroke-width="1.0"/>
<line x1="225.5" y1="517" x2="225.5" y2="560" stroke="#a2a2a2" stroke-width="1.0"/>
<line x1="246.5" y1="517" x2="246.5" y2="571" stroke="#a2a2a2" stroke-width="1.0"/>
<line x1="251.5" y1="503" x2="251.5" y2="585" stroke="#a2a2a2" stroke-width="1.0"/>
<text transform="translate(93.7 547.1) scale(0.74 1)" font-family="Liberation Serif" font-size="10.3" font-weight="normal" fill="#262626" textLength="33.65" lengthAdjust="spacing">15-φ0.9</text>
<line x1="94" y1="549.5" x2="125.4" y2="549.5" stroke="#d4d4d4" stroke-width="1.0"/>
<line x1="125.4" y1="549.2" x2="183" y2="482" stroke="#a2a2a2" stroke-width="1.0"/>
<path d="M177 488.9L175.39 492.78L173.41 491.09Z" fill="#333"/>
<text transform="translate(92 518) scale(0.74 1)" font-family="Liberation Serif" font-size="10.45" font-weight="normal" fill="#262626" textLength="28.92" lengthAdjust="spacing">2-φ3.2</text>
<text transform="translate(114 512) scale(0.74 1)" font-family="Liberation Serif" font-size="6.82" font-weight="normal" fill="#262626" textLength="14.86" lengthAdjust="spacing">+0.12</text>
<text transform="translate(116 518) scale(0.74 1)" font-family="Liberation Serif" font-size="6.06" font-weight="normal" fill="#262626" textLength="4.05" lengthAdjust="spacing">0</text>
<line x1="92" y1="520.5" x2="127" y2="520.5" stroke="#d4d4d4" stroke-width="1.0"/>
<line x1="127" y1="520.2" x2="136.5" y2="501" stroke="#a2a2a2" stroke-width="1.0"/>
<path d="M136.5 501L135.89 505.16L133.56 504.01Z" fill="#333"/>
<line x1="150" y1="474" x2="145.8" y2="483.5" stroke="#a2a2a2" stroke-width="1.0"/>
<path d="M145.8 483.5L146.23 479.32L148.61 480.37Z" fill="#333"/>
<text transform="translate(164 546.6) scale(0.74 1)" font-family="Liberation Serif" font-size="8.79" font-weight="normal" fill="#262626" textLength="16.22" lengthAdjust="spacing">1.91</text>
<line x1="163" y1="549.5" x2="222" y2="549.5" stroke="#d4d4d4" stroke-width="1.0"/>
<path d="M204.3 549.5L200.8 550.8L200.8 548.2Z" fill="#333"/>
<path d="M214.6 549.5L218.1 548.2L218.1 550.8Z" fill="#333"/>
<text transform="translate(254 554.3) scale(0.74 1)" font-family="Liberation Serif" font-size="10.45" font-weight="normal" fill="#262626" textLength="17.43" lengthAdjust="spacing">1.91</text>
<line x1="208" y1="556.5" x2="268" y2="556.5" stroke="#d4d4d4" stroke-width="1.0"/>
<path d="M214.6 556.5L211.1 557.8L211.1 555.2Z" fill="#333"/>
<path d="M225.2 556.5L228.7 555.2L228.7 557.8Z" fill="#333"/>
<text transform="translate(206 567.1) scale(0.74 1)" font-family="Liberation Serif" font-size="10.3" font-weight="normal" fill="#262626" textLength="23.11" lengthAdjust="spacing">11.46</text>
<line x1="182.3" y1="569.5" x2="246.3" y2="569.5" stroke="#a2a2a2" stroke-width="1.0"/>
<path d="M182.3 569.5L186.3 568.2L186.3 570.8Z" fill="#333"/>
<path d="M246.3 569.5L242.3 570.8L242.3 568.2Z" fill="#333"/>
<text transform="translate(206 580.9) scale(0.74 1)" font-family="Liberation Serif" font-size="10.45" font-weight="normal" fill="#262626" textLength="23.11" lengthAdjust="spacing">13.37</text>
<line x1="177.2" y1="582.5" x2="251.4" y2="582.5" stroke="#a2a2a2" stroke-width="1.0"/>
<path d="M177.2 582.5L181.2 581.2L181.2 583.8Z" fill="#333"/>
<path d="M251.4 582.5L247.4 583.8L247.4 581.2Z" fill="#333"/>
<text transform="translate(198.3 594.6) scale(0.74 1)" font-family="Liberation Serif" font-size="10.45" font-weight="normal" fill="#262626" textLength="45.14" lengthAdjust="spacing">25.6±0.05</text>
<line x1="140.5" y1="596.5" x2="288.6" y2="596.5" stroke="#a2a2a2" stroke-width="1.0"/>
<path d="M140.5 596.5L144.5 595.2L144.5 597.8Z" fill="#333"/>
<path d="M288.6 596.5L284.6 597.8L284.6 595.2Z" fill="#333"/>
<text transform="translate(314.2 473.6) rotate(-90) scale(0.72 1)" x="0" y="0" font-family="Liberation Serif" font-size="9.09" fill="#262626" textLength="19.31" lengthAdjust="spacing">0.46</text>
<line x1="317.5" y1="459" x2="317.5" y2="503.4" stroke="#a2a2a2" stroke-width="1.0"/>
<path d="M317.5 488.5L316.2 484.5L318.8 484.5Z" fill="#333"/>
<path d="M317.5 492.5L318.8 496.5L316.2 496.5Z" fill="#333"/>
<line x1="325.5" y1="488.5" x2="325.5" y2="584.8" stroke="#a2a2a2" stroke-width="1.0"/>
<path d="M325.5 488.5L326.8 492.5L324.2 492.5Z" fill="#333"/>
<path d="M325.5 531.2L324.2 527.2L326.8 527.2Z" fill="#333"/>
<text transform="translate(323.4 584.8) rotate(-90) scale(0.72 1)" x="0" y="0" font-family="Liberation Serif" font-size="9.09" fill="#262626" textLength="64.72" lengthAdjust="spacing">2.54×3=7.62</text>
<text transform="translate(470 441.69) scale(0.74 1)" font-family="Liberation Serif" font-size="8.78" fill="#262626" textLength="47.71" lengthAdjust="spacing">印制板边缘</text>
<line x1="469" y1="444.5" x2="508.6" y2="444.5" stroke="#d4d4d4" stroke-width="1.0"/>
<line x1="470" y1="444.5" x2="463" y2="455" stroke="#a2a2a2" stroke-width="1.0"/>
<path d="M463 455L464.14 450.95L466.3 452.39Z" fill="#333"/>
<line x1="416" y1="455.5" x2="572.8" y2="455.5" stroke="#2e2b28" stroke-width="1.5"/>
<line x1="574.7" y1="455.5" x2="590.8" y2="455.5" stroke="#d4d4d4" stroke-width="1.0"/>
<text transform="translate(403.78 473.9) rotate(-90) scale(0.72 1)" x="0" y="0" font-family="Liberation Serif" font-size="8.73" fill="#262626" textLength="16.67" lengthAdjust="spacing">0.46</text>
<line x1="405.5" y1="461" x2="405.5" y2="499.6" stroke="#a2a2a2" stroke-width="1.0"/>
<path d="M405.5 488.1L404.2 484.1L406.8 484.1Z" fill="#333"/>
<path d="M405.5 491L406.8 495L404.2 495Z" fill="#333"/>
<line x1="394.6" y1="488.5" x2="540" y2="488.5" stroke="#d4d4d4" stroke-width="1.0"/>
<line x1="400" y1="491.5" x2="590" y2="491.5" stroke="#b4b4b4" stroke-width="1.0" stroke-dasharray="11 2"/>
<circle cx="426.5" cy="491.5" r="8.2" fill="none" stroke="#8c8c8c" stroke-width="0.8"/>
<line x1="426.5" y1="476" x2="426.5" y2="595" stroke="#a8a8a8" stroke-width="1.0"/>
<circle cx="559.5" cy="491.5" r="8.1" fill="none" stroke="#8c8c8c" stroke-width="0.8"/>
<line x1="559.5" y1="476" x2="559.5" y2="594" stroke="#a8a8a8" stroke-width="1.0"/>
<line x1="397.5" y1="488.1" x2="397.5" y2="575.1" stroke="#a2a2a2" stroke-width="1.0"/>
<path d="M397.5 488.1L398.8 492.1L396.2 492.1Z" fill="#333"/>
<path d="M397.5 526.3L396.2 522.3L398.8 522.3Z" fill="#333"/>
<text transform="translate(395.78 575.1) rotate(-90) scale(0.72 1)" x="0" y="0" font-family="Liberation Serif" font-size="8.73" fill="#262626" textLength="59.44" lengthAdjust="spacing">2.54×3=7.62</text>
<line x1="394.6" y1="526.5" x2="540" y2="526.5" stroke="#d4d4d4" stroke-width="1.0"/>
<text transform="translate(463.1 469.9) scale(0.74 1)" font-family="Liberation Serif" font-size="7.73" font-weight="normal" fill="#262626" textLength="20.95" lengthAdjust="spacing">0.955</text>
<line x1="462" y1="471.5" x2="493.1" y2="471.5" stroke="#d4d4d4" stroke-width="1.0"/>
<path d="M488.5 471.5L485 472.8L485 470.2Z" fill="#333"/>
<text transform="translate(508 473) scale(0.74 1)" font-family="Liberation Serif" font-size="7.73" font-weight="normal" fill="#262626" textLength="20.41" lengthAdjust="spacing">0.955</text>
<line x1="486" y1="475.5" x2="525" y2="475.5" stroke="#d4d4d4" stroke-width="1.0"/>
<path d="M497.9 475.5L501.4 474.2L501.4 476.8Z" fill="#333"/>
<line x1="488.5" y1="466" x2="488.5" y2="488" stroke="#a2a2a2" stroke-width="1.0"/>
<line x1="493.5" y1="464" x2="493.5" y2="556" stroke="#a8a8a8" stroke-width="1.0"/>
<line x1="498.5" y1="466" x2="498.5" y2="500.4" stroke="#a2a2a2" stroke-width="1.0"/>
<circle cx="469.5" cy="488.5" r="2.5" fill="none" stroke="#8a8a8a" stroke-width="0.75"/>
<path d="M465.9 488.5H473.1M469.5 484.9V492.1" stroke="#8e8e8e" stroke-width="0.9" fill="none"/>
<circle cx="488.5" cy="488.5" r="2.5" fill="none" stroke="#8a8a8a" stroke-width="0.75"/>
<path d="M484.9 488.5H492.1M488.5 484.9V492.1" stroke="#8e8e8e" stroke-width="0.9" fill="none"/>
<circle cx="507.5" cy="488.5" r="2.5" fill="none" stroke="#8a8a8a" stroke-width="0.75"/>
<path d="M503.9 488.5H511.1M507.5 484.9V492.1" stroke="#8e8e8e" stroke-width="0.9" fill="none"/>
<circle cx="527.5" cy="488.5" r="2.5" fill="none" stroke="#8a8a8a" stroke-width="0.75"/>
<path d="M523.9 488.5H531.1M527.5 484.9V492.1" stroke="#8e8e8e" stroke-width="0.9" fill="none"/>
<circle cx="459.5" cy="500.5" r="2.5" fill="none" stroke="#8a8a8a" stroke-width="0.75"/>
<path d="M455.9 500.5H463.1M459.5 496.9V504.1" stroke="#8e8e8e" stroke-width="0.9" fill="none"/>
<circle cx="478.5" cy="500.5" r="2.5" fill="none" stroke="#8a8a8a" stroke-width="0.75"/>
<path d="M474.9 500.5H482.1M478.5 496.9V504.1" stroke="#8e8e8e" stroke-width="0.9" fill="none"/>
<circle cx="498.5" cy="500.5" r="2.5" fill="none" stroke="#8a8a8a" stroke-width="0.75"/>
<path d="M494.9 500.5H502.1M498.5 496.9V504.1" stroke="#8e8e8e" stroke-width="0.9" fill="none"/>
<circle cx="517.5" cy="500.5" r="2.5" fill="none" stroke="#8a8a8a" stroke-width="0.75"/>
<path d="M513.9 500.5H521.1M517.5 496.9V504.1" stroke="#8e8e8e" stroke-width="0.9" fill="none"/>
<circle cx="464.5" cy="514.5" r="2.5" fill="none" stroke="#8a8a8a" stroke-width="0.75"/>
<path d="M460.9 514.5H468.1M464.5 510.9V518.1" stroke="#8e8e8e" stroke-width="0.9" fill="none"/>
<circle cx="483.5" cy="514.5" r="2.5" fill="none" stroke="#8a8a8a" stroke-width="0.75"/>
<path d="M479.9 514.5H487.1M483.5 510.9V518.1" stroke="#8e8e8e" stroke-width="0.9" fill="none"/>
<circle cx="502.5" cy="514.5" r="2.5" fill="none" stroke="#8a8a8a" stroke-width="0.75"/>
<path d="M498.9 514.5H506.1M502.5 510.9V518.1" stroke="#8e8e8e" stroke-width="0.9" fill="none"/>
<circle cx="522.5" cy="514.5" r="2.5" fill="none" stroke="#8a8a8a" stroke-width="0.75"/>
<path d="M518.9 514.5H526.1M522.5 510.9V518.1" stroke="#8e8e8e" stroke-width="0.9" fill="none"/>
<circle cx="473.5" cy="526.5" r="2.5" fill="none" stroke="#8a8a8a" stroke-width="0.75"/>
<path d="M469.9 526.5H477.1M473.5 522.9V530.1" stroke="#8e8e8e" stroke-width="0.9" fill="none"/>
<circle cx="512.5" cy="526.5" r="2.5" fill="none" stroke="#8a8a8a" stroke-width="0.75"/>
<path d="M508.9 526.5H516.1M512.5 522.9V530.1" stroke="#8e8e8e" stroke-width="0.9" fill="none"/>
<circle cx="493.5" cy="526.5" r="2.5" fill="none" stroke="#8a8a8a" stroke-width="0.75"/>
<text x="463.4" y="485.61" font-family="Liberation Serif" font-size="7.77" fill="#262626" textLength="3" lengthAdjust="spacingAndGlyphs">7</text>
<text x="483.4" y="485.61" font-family="Liberation Serif" font-size="7.77" fill="#262626" textLength="3" lengthAdjust="spacingAndGlyphs">5</text>
<text x="510" y="485.91" font-family="Liberation Serif" font-size="7.77" fill="#262626" textLength="3" lengthAdjust="spacingAndGlyphs">3</text>
<text x="529.3" y="485.91" font-family="Liberation Serif" font-size="7.77" fill="#262626" textLength="3" lengthAdjust="spacingAndGlyphs">1</text>
<text x="453.6" y="498.83" font-family="Liberation Serif" font-size="7.5" fill="#262626" textLength="3" lengthAdjust="spacingAndGlyphs">8</text>
<text x="473.6" y="498.83" font-family="Liberation Serif" font-size="7.5" fill="#262626" textLength="3" lengthAdjust="spacingAndGlyphs">6</text>
<text x="500.2" y="498.83" font-family="Liberation Serif" font-size="7.5" fill="#262626" textLength="3" lengthAdjust="spacingAndGlyphs">4</text>
<text x="519.9" y="498.83" font-family="Liberation Serif" font-size="7.5" fill="#262626" textLength="3" lengthAdjust="spacingAndGlyphs">2</text>
<text x="466.1" y="512.13" font-family="Liberation Serif" font-size="7.36" fill="#262626" textLength="6" lengthAdjust="spacingAndGlyphs">15</text>
<text x="486.2" y="512.13" font-family="Liberation Serif" font-size="7.36" fill="#262626" textLength="6" lengthAdjust="spacingAndGlyphs">13</text>
<text x="505.6" y="512.13" font-family="Liberation Serif" font-size="7.36" fill="#262626" textLength="6" lengthAdjust="spacingAndGlyphs">11</text>
<text x="527.1" y="512.13" font-family="Liberation Serif" font-size="7.36" fill="#262626" textLength="3" lengthAdjust="spacingAndGlyphs">9</text>
<text x="467.4" y="534.74" font-family="Liberation Serif" font-size="7.23" fill="#262626" textLength="6" lengthAdjust="spacingAndGlyphs">14</text>
<text x="484.6" y="534.74" font-family="Liberation Serif" font-size="7.23" fill="#262626" textLength="6" lengthAdjust="spacingAndGlyphs">12</text>
<text x="504.3" y="534.91" font-family="Liberation Serif" font-size="8.05" fill="#262626" textLength="6" lengthAdjust="spacingAndGlyphs">10</text>
<line x1="458.9" y1="500.5" x2="478.6" y2="500.5" stroke="#d4d4d4" stroke-width="1.0"/>
<line x1="497.9" y1="500.5" x2="517.1" y2="500.5" stroke="#d4d4d4" stroke-width="1.0"/>
<line x1="460" y1="514.5" x2="488" y2="514.5" stroke="#d4d4d4" stroke-width="1.0"/>
<line x1="497" y1="514.5" x2="527" y2="514.5" stroke="#d4d4d4" stroke-width="1.0"/>
<line x1="459.5" y1="500.4" x2="459.5" y2="582" stroke="#a2a2a2" stroke-width="1.0"/>
<line x1="464.5" y1="513.8" x2="464.5" y2="570" stroke="#a2a2a2" stroke-width="1.0"/>
<line x1="483.5" y1="513.8" x2="483.5" y2="554.6" stroke="#a2a2a2" stroke-width="1.0"/>
<line x1="502.5" y1="513.8" x2="502.5" y2="554.7" stroke="#a2a2a2" stroke-width="1.0"/>
<line x1="522.5" y1="513.8" x2="522.5" y2="567.6" stroke="#a2a2a2" stroke-width="1.0"/>
<line x1="527.5" y1="488.1" x2="527.5" y2="581.3" stroke="#a2a2a2" stroke-width="1.0"/>
<text transform="translate(446.5 550.3) scale(0.74 1)" font-family="Liberation Serif" font-size="9.09" font-weight="normal" fill="#262626" textLength="16.22" lengthAdjust="spacing">1.91</text>
<text transform="translate(528 549.9) scale(0.74 1)" font-family="Liberation Serif" font-size="8.33" font-weight="normal" fill="#262626" textLength="16.22" lengthAdjust="spacing">1.91</text>
<line x1="446" y1="551.5" x2="541" y2="551.5" stroke="#d4d4d4" stroke-width="1.0"/>
<path d="M483.4 551.5L479.9 552.8L479.9 550.2Z" fill="#333"/>
<path d="M502.6 551.5L506.1 550.2L506.1 552.8Z" fill="#333"/>
<text transform="translate(486 566.6) scale(0.74 1)" font-family="Liberation Serif" font-size="9.09" font-weight="normal" fill="#262626" textLength="18.92" lengthAdjust="spacing">11.46</text>
<line x1="464" y1="568.5" x2="522.5" y2="568.5" stroke="#a2a2a2" stroke-width="1.0"/>
<path d="M464 568.5L468 567.2L468 569.8Z" fill="#333"/>
<path d="M522.5 568.5L518.5 569.8L518.5 567.2Z" fill="#333"/>
<text transform="translate(486 579) scale(0.74 1)" font-family="Liberation Serif" font-size="8.48" font-weight="normal" fill="#262626" textLength="18.92" lengthAdjust="spacing">13.37</text>
<line x1="459.2" y1="580.5" x2="527.1" y2="580.5" stroke="#a2a2a2" stroke-width="1.0"/>
<path d="M459.2 580.5L463.2 579.2L463.2 581.8Z" fill="#333"/>
<path d="M527.1 580.5L523.1 581.8L523.1 579.2Z" fill="#333"/>
<text transform="translate(478 590.6) scale(0.74 1)" font-family="Liberation Serif" font-size="10.45" font-weight="normal" fill="#262626" textLength="43.24" lengthAdjust="spacing">25.6±0.05</text>
<line x1="426.3" y1="592.5" x2="559.6" y2="592.5" stroke="#a2a2a2" stroke-width="1.0"/>
<path d="M426.3 592.5L430.3 591.2L430.3 593.8Z" fill="#333"/>
<path d="M559.6 592.5L555.6 593.8L555.6 591.2Z" fill="#333"/>
<text transform="translate(534.3 442.1) scale(0.74 1)" font-family="Liberation Serif" font-size="9.09" font-weight="normal" fill="#262626" textLength="30.14" lengthAdjust="spacing">15-φ0.9</text>
<line x1="533" y1="443.5" x2="557" y2="443.5" stroke="#d4d4d4" stroke-width="1.0"/>
<line x1="533" y1="443.5" x2="525.5" y2="497" stroke="#a2a2a2" stroke-width="1.0"/>
<path d="M527.4 488.1L526.6 483.97L529.18 484.29Z" fill="#333"/>
<text transform="translate(572.8 446.6) scale(0.74 1)" font-family="Liberation Serif" font-size="9.09" font-weight="normal" fill="#262626" textLength="25.95" lengthAdjust="spacing">2-φ3.2</text>
<text transform="translate(592.7 440.6) scale(0.74 1)" font-family="Liberation Serif" font-size="5.91" font-weight="normal" fill="#262626" textLength="13.92" lengthAdjust="spacing">+0.12</text>
<text transform="translate(594 446.5) scale(0.74 1)" font-family="Liberation Serif" font-size="6.06" font-weight="normal" fill="#262626" textLength="4.05" lengthAdjust="spacing">0</text>
<line x1="572" y1="448.5" x2="603" y2="448.5" stroke="#d4d4d4" stroke-width="1.0"/>
<line x1="572" y1="448" x2="562.2" y2="483.3" stroke="#a2a2a2" stroke-width="1.0"/>
<path d="M562.2 483.3L562.02 479.1L564.52 479.79Z" fill="#333"/>
<line x1="555.4" y1="507.4" x2="557.8" y2="499.6" stroke="#a2a2a2" stroke-width="1.0"/>
<path d="M557.8 499.6L557.87 503.81L555.38 503.04Z" fill="#333"/>
<line x1="588.5" y1="455.5" x2="588.5" y2="533.8" stroke="#a2a2a2" stroke-width="1.0"/>
<path d="M588.5 455.7L589.8 459.7L587.2 459.7Z" fill="#333"/>
<path d="M588.5 491L587.2 487L589.8 487Z" fill="#333"/>
<text transform="translate(585.88 533.8) rotate(-90) scale(0.72 1)" x="0" y="0" font-family="Liberation Serif" font-size="8.73" fill="#262626" textLength="51.11" lengthAdjust="spacing">8.5-10.9max</text>
<line x1="108" y1="712.5" x2="133.6" y2="712.5" stroke="#d4d4d4" stroke-width="1.0"/>
<line x1="134.1" y1="712.5" x2="310.6" y2="712.5" stroke="#2e2b28" stroke-width="1.5"/>
<text transform="translate(233.4 699.22) scale(0.64 1)" font-family="Liberation Serif" font-size="11.11" fill="#262626" textLength="60.39" lengthAdjust="spacing">印制板边缘</text>
<line x1="233.7" y1="702.5" x2="274.9" y2="702.5" stroke="#d4d4d4" stroke-width="1.0"/>
<line x1="233.7" y1="701.9" x2="228.6" y2="712" stroke="#a2a2a2" stroke-width="1.0"/>
<path d="M228.6 712L229.24 707.84L231.56 709.02Z" fill="#333"/>
<line x1="111.5" y1="712.8" x2="111.5" y2="749.4" stroke="#a2a2a2" stroke-width="1.0"/>
<path d="M111.5 712.8L112.8 716.8L110.2 716.8Z" fill="#333"/>
<path d="M111.5 749.4L110.2 745.4L112.8 745.4Z" fill="#333"/>
<text transform="translate(108.66 753.7) rotate(-90) scale(0.72 1)" x="0" y="0" font-family="Liberation Serif" font-size="10.18" fill="#262626" textLength="63.06" lengthAdjust="spacing">8.5-10.9max</text>
<line x1="110" y1="749.5" x2="331" y2="749.5" stroke="#b4b4b4" stroke-width="1.0" stroke-dasharray="11 2"/>
<line x1="165" y1="747.5" x2="331.5" y2="747.5" stroke="#d4d4d4" stroke-width="1.0"/>
<circle cx="143.5" cy="749.5" r="7.7" fill="none" stroke="#8c8c8c" stroke-width="0.8"/>
<line x1="143.5" y1="735" x2="143.5" y2="854" stroke="#a8a8a8" stroke-width="1.0"/>
<circle cx="303.5" cy="749.5" r="7.6" fill="none" stroke="#8c8c8c" stroke-width="0.8"/>
<line x1="303.5" y1="736.7" x2="303.5" y2="854" stroke="#a8a8a8" stroke-width="1.0"/>
<circle cx="170.5" cy="747.5" r="2.2" fill="none" stroke="#8a8a8a" stroke-width="0.75"/>
<path d="M167.5 747.5H173.5M170.5 744.5V750.5" stroke="#8e8e8e" stroke-width="0.9" fill="none"/>
<circle cx="188.5" cy="747.5" r="2.2" fill="none" stroke="#8a8a8a" stroke-width="0.75"/>
<path d="M185.5 747.5H191.5M188.5 744.5V750.5" stroke="#8e8e8e" stroke-width="0.9" fill="none"/>
<circle cx="206.5" cy="747.5" r="2.2" fill="none" stroke="#8a8a8a" stroke-width="0.75"/>
<path d="M203.5 747.5H209.5M206.5 744.5V750.5" stroke="#8e8e8e" stroke-width="0.9" fill="none"/>
<circle cx="224.5" cy="747.5" r="2.2" fill="none" stroke="#8a8a8a" stroke-width="0.75"/>
<path d="M221.5 747.5H227.5M224.5 744.5V750.5" stroke="#8e8e8e" stroke-width="0.9" fill="none"/>
<circle cx="241.5" cy="747.5" r="2.2" fill="none" stroke="#8a8a8a" stroke-width="0.75"/>
<path d="M238.5 747.5H244.5M241.5 744.5V750.5" stroke="#8e8e8e" stroke-width="0.9" fill="none"/>
<circle cx="259.5" cy="747.5" r="2.2" fill="none" stroke="#8a8a8a" stroke-width="0.75"/>
<path d="M256.5 747.5H262.5M259.5 744.5V750.5" stroke="#8e8e8e" stroke-width="0.9" fill="none"/>
<circle cx="277.5" cy="747.5" r="2.2" fill="none" stroke="#8a8a8a" stroke-width="0.75"/>
<path d="M274.5 747.5H280.5M277.5 744.5V750.5" stroke="#8e8e8e" stroke-width="0.9" fill="none"/>
<circle cx="179.5" cy="759.5" r="2.2" fill="none" stroke="#8a8a8a" stroke-width="0.75"/>
<path d="M176.5 759.5H182.5M179.5 756.5V762.5" stroke="#8e8e8e" stroke-width="0.9" fill="none"/>
<circle cx="197.5" cy="759.5" r="2.2" fill="none" stroke="#8a8a8a" stroke-width="0.75"/>
<path d="M194.5 759.5H200.5M197.5 756.5V762.5" stroke="#8e8e8e" stroke-width="0.9" fill="none"/>
<circle cx="215.5" cy="759.5" r="2.2" fill="none" stroke="#8a8a8a" stroke-width="0.75"/>
<path d="M212.5 759.5H218.5M215.5 756.5V762.5" stroke="#8e8e8e" stroke-width="0.9" fill="none"/>
<circle cx="233.5" cy="759.5" r="2.2" fill="none" stroke="#8a8a8a" stroke-width="0.75"/>
<path d="M230.5 759.5H236.5M233.5 756.5V762.5" stroke="#8e8e8e" stroke-width="0.9" fill="none"/>
<circle cx="250.5" cy="759.5" r="2.2" fill="none" stroke="#8a8a8a" stroke-width="0.75"/>
<path d="M247.5 759.5H253.5M250.5 756.5V762.5" stroke="#8e8e8e" stroke-width="0.9" fill="none"/>
<circle cx="268.5" cy="759.5" r="2.2" fill="none" stroke="#8a8a8a" stroke-width="0.75"/>
<path d="M265.5 759.5H271.5M268.5 756.5V762.5" stroke="#8e8e8e" stroke-width="0.9" fill="none"/>
<circle cx="174.5" cy="771.5" r="2.2" fill="none" stroke="#8a8a8a" stroke-width="0.75"/>
<path d="M171.5 771.5H177.5M174.5 768.5V774.5" stroke="#8e8e8e" stroke-width="0.9" fill="none"/>
<circle cx="191.5" cy="771.5" r="2.2" fill="none" stroke="#8a8a8a" stroke-width="0.75"/>
<path d="M188.5 771.5H194.5M191.5 768.5V774.5" stroke="#8e8e8e" stroke-width="0.9" fill="none"/>
<circle cx="209.5" cy="771.5" r="2.2" fill="none" stroke="#8a8a8a" stroke-width="0.75"/>
<path d="M206.5 771.5H212.5M209.5 768.5V774.5" stroke="#8e8e8e" stroke-width="0.9" fill="none"/>
<circle cx="227.5" cy="771.5" r="2.2" fill="none" stroke="#8a8a8a" stroke-width="0.75"/>
<path d="M224.5 771.5H230.5M227.5 768.5V774.5" stroke="#8e8e8e" stroke-width="0.9" fill="none"/>
<circle cx="245.5" cy="771.5" r="2.2" fill="none" stroke="#8a8a8a" stroke-width="0.75"/>
<path d="M242.5 771.5H248.5M245.5 768.5V774.5" stroke="#8e8e8e" stroke-width="0.9" fill="none"/>
<circle cx="263.5" cy="771.5" r="2.2" fill="none" stroke="#8a8a8a" stroke-width="0.75"/>
<path d="M260.5 771.5H266.5M263.5 768.5V774.5" stroke="#8e8e8e" stroke-width="0.9" fill="none"/>
<circle cx="183.5" cy="783.5" r="2.2" fill="none" stroke="#8a8a8a" stroke-width="0.75"/>
<path d="M180.5 783.5H186.5M183.5 780.5V786.5" stroke="#8e8e8e" stroke-width="0.9" fill="none"/>
<circle cx="201.5" cy="783.5" r="2.2" fill="none" stroke="#8a8a8a" stroke-width="0.75"/>
<path d="M198.5 783.5H204.5M201.5 780.5V786.5" stroke="#8e8e8e" stroke-width="0.9" fill="none"/>
<circle cx="219.5" cy="783.5" r="2.2" fill="none" stroke="#8a8a8a" stroke-width="0.75"/>
<path d="M216.5 783.5H222.5M219.5 780.5V786.5" stroke="#8e8e8e" stroke-width="0.9" fill="none"/>
<circle cx="237.5" cy="783.5" r="2.2" fill="none" stroke="#8a8a8a" stroke-width="0.75"/>
<path d="M234.5 783.5H240.5M237.5 780.5V786.5" stroke="#8e8e8e" stroke-width="0.9" fill="none"/>
<circle cx="254.5" cy="783.5" r="2.2" fill="none" stroke="#8a8a8a" stroke-width="0.75"/>
<path d="M251.5 783.5H257.5M254.5 780.5V786.5" stroke="#8e8e8e" stroke-width="0.9" fill="none"/>
<circle cx="272.5" cy="783.5" r="2.2" fill="none" stroke="#8a8a8a" stroke-width="0.75"/>
<path d="M269.5 783.5H275.5M272.5 780.5V786.5" stroke="#8e8e8e" stroke-width="0.9" fill="none"/>
<text x="164.3" y="744.59" font-family="Liberation Serif" font-size="8.59" fill="#262626" textLength="3.4" lengthAdjust="spacingAndGlyphs">1</text>
<text x="182" y="744.59" font-family="Liberation Serif" font-size="8.59" fill="#262626" textLength="3.4" lengthAdjust="spacingAndGlyphs">3</text>
<text x="200" y="744.59" font-family="Liberation Serif" font-size="8.59" fill="#262626" textLength="3.4" lengthAdjust="spacingAndGlyphs">5</text>
<text x="218" y="744.59" font-family="Liberation Serif" font-size="8.59" fill="#262626" textLength="3.4" lengthAdjust="spacingAndGlyphs">7</text>
<text x="243.7" y="744.59" font-family="Liberation Serif" font-size="8.59" fill="#262626" textLength="3.4" lengthAdjust="spacingAndGlyphs">9</text>
<text x="262" y="744.59" font-family="Liberation Serif" font-size="8.59" fill="#262626" textLength="6.8" lengthAdjust="spacingAndGlyphs">11</text>
<text x="279.9" y="744.68" font-family="Liberation Serif" font-size="8.59" fill="#262626" textLength="6.8" lengthAdjust="spacingAndGlyphs">13</text>
<text x="173.7" y="757.67" font-family="Liberation Serif" font-size="9" fill="#262626" textLength="3.4" lengthAdjust="spacingAndGlyphs">2</text>
<text x="190.9" y="757.67" font-family="Liberation Serif" font-size="9" fill="#262626" textLength="3.4" lengthAdjust="spacingAndGlyphs">4</text>
<text x="208.9" y="757.67" font-family="Liberation Serif" font-size="9" fill="#262626" textLength="3.4" lengthAdjust="spacingAndGlyphs">6</text>
<text x="235.1" y="757.67" font-family="Liberation Serif" font-size="9" fill="#262626" textLength="3.4" lengthAdjust="spacingAndGlyphs">8</text>
<text x="253.5" y="757.67" font-family="Liberation Serif" font-size="9" fill="#262626" textLength="6.8" lengthAdjust="spacingAndGlyphs">10</text>
<text x="271.5" y="757.67" font-family="Liberation Serif" font-size="9" fill="#262626" textLength="6.8" lengthAdjust="spacingAndGlyphs">12</text>
<text x="167.3" y="768.3" font-family="Liberation Serif" font-size="8.18" fill="#262626" textLength="6.8" lengthAdjust="spacingAndGlyphs">14</text>
<text x="185.8" y="768.3" font-family="Liberation Serif" font-size="8.18" fill="#262626" textLength="6.8" lengthAdjust="spacingAndGlyphs">16</text>
<text x="203.3" y="768.3" font-family="Liberation Serif" font-size="8.18" fill="#262626" textLength="6.8" lengthAdjust="spacingAndGlyphs">18</text>
<text x="221.4" y="768.3" font-family="Liberation Serif" font-size="8.18" fill="#262626" textLength="6.8" lengthAdjust="spacingAndGlyphs">20</text>
<text x="238.5" y="768.3" font-family="Liberation Serif" font-size="8.18" fill="#262626" textLength="6.8" lengthAdjust="spacingAndGlyphs">22</text>
<text x="255.6" y="768.3" font-family="Liberation Serif" font-size="8.18" fill="#262626" textLength="6.8" lengthAdjust="spacingAndGlyphs">24</text>
<text x="176.3" y="791.4" font-family="Liberation Serif" font-size="8.18" fill="#262626" textLength="6.8" lengthAdjust="spacingAndGlyphs">15</text>
<text x="193.5" y="791.4" font-family="Liberation Serif" font-size="8.18" fill="#262626" textLength="6.8" lengthAdjust="spacingAndGlyphs">17</text>
<text x="211.5" y="791.4" font-family="Liberation Serif" font-size="8.18" fill="#262626" textLength="6.8" lengthAdjust="spacingAndGlyphs">19</text>
<text x="229.5" y="791.4" font-family="Liberation Serif" font-size="8.18" fill="#262626" textLength="6.8" lengthAdjust="spacingAndGlyphs">21</text>
<text x="246.3" y="791.4" font-family="Liberation Serif" font-size="8.18" fill="#262626" textLength="6.8" lengthAdjust="spacingAndGlyphs">23</text>
<text x="264.2" y="791.4" font-family="Liberation Serif" font-size="8.18" fill="#262626" textLength="6.8" lengthAdjust="spacingAndGlyphs">25</text>
<line x1="174" y1="759.5" x2="272" y2="759.5" stroke="#d4d4d4" stroke-width="1.0"/>
<line x1="170" y1="771.5" x2="268" y2="771.5" stroke="#d4d4d4" stroke-width="1.0"/>
<line x1="180" y1="782.5" x2="331" y2="782.5" stroke="#d4d4d4" stroke-width="1.0"/>
<text transform="translate(186.6 726.6) scale(0.74 1)" font-family="Liberation Serif" font-size="10.45" font-weight="normal" fill="#262626" textLength="20.81" lengthAdjust="spacing">1.91</text>
<line x1="186" y1="728.5" x2="222" y2="728.5" stroke="#d4d4d4" stroke-width="1.0"/>
<path d="M214.5 728.5L211 729.8L211 727.2Z" fill="#333"/>
<text transform="translate(244.9 730.5) scale(0.74 1)" font-family="Liberation Serif" font-size="11.21" font-weight="normal" fill="#262626" textLength="20.14" lengthAdjust="spacing">1.91</text>
<line x1="217" y1="731.5" x2="260" y2="731.5" stroke="#d4d4d4" stroke-width="1.0"/>
<path d="M223.8 731.5L220.3 732.8L220.3 730.2Z" fill="#333"/>
<path d="M232.9 731.5L236.4 730.2L236.4 732.8Z" fill="#333"/>
<line x1="214.5" y1="726" x2="214.5" y2="759.2" stroke="#a2a2a2" stroke-width="1.0"/>
<line x1="224.5" y1="718" x2="224.5" y2="811" stroke="#a8a8a8" stroke-width="1.0"/>
<line x1="233.5" y1="728" x2="233.5" y2="759.2" stroke="#a2a2a2" stroke-width="1.0"/>
<text transform="translate(319.64 734.7) rotate(-90) scale(0.72 1)" x="0" y="0" font-family="Liberation Serif" font-size="9.82" fill="#262626" textLength="22.08" lengthAdjust="spacing">0.46</text>
<line x1="321.5" y1="719" x2="321.5" y2="760.5" stroke="#a2a2a2" stroke-width="1.0"/>
<path d="M321.5 747.6L320.2 743.6L322.8 743.6Z" fill="#333"/>
<path d="M321.5 749.6L322.8 753.6L320.2 753.6Z" fill="#333"/>
<line x1="329.5" y1="747.6" x2="329.5" y2="845" stroke="#a2a2a2" stroke-width="1.0"/>
<path d="M329.5 747.6L330.8 751.6L328.2 751.6Z" fill="#333"/>
<path d="M329.5 782.4L328.2 778.4L330.8 778.4Z" fill="#333"/>
<text transform="translate(326.46 845) rotate(-90) scale(0.72 1)" x="0" y="0" font-family="Liberation Serif" font-size="10.18" fill="#262626" textLength="78.61" lengthAdjust="spacing">2.54×3=7.62</text>
<text transform="translate(93.1 801.5) scale(0.74 1)" font-family="Liberation Serif" font-size="12.73" font-weight="normal" fill="#262626" textLength="32.84" lengthAdjust="spacing">2-φ3.2</text>
<text transform="translate(118 794.5) scale(0.74 1)" font-family="Liberation Serif" font-size="8.33" font-weight="normal" fill="#262626" textLength="17.57" lengthAdjust="spacing">+0.12</text>
<text transform="translate(120 801) scale(0.74 1)" font-family="Liberation Serif" font-size="6.82" font-weight="normal" fill="#262626" textLength="4.73" lengthAdjust="spacing">0</text>
<line x1="93" y1="802.5" x2="132" y2="802.5" stroke="#d4d4d4" stroke-width="1.0"/>
<line x1="132" y1="802.2" x2="140.5" y2="757.5" stroke="#a2a2a2" stroke-width="1.0"/>
<path d="M140.5 757.5L141.03 761.67L138.48 761.19Z" fill="#333"/>
<line x1="147.3" y1="731.4" x2="144.7" y2="741.4" stroke="#a2a2a2" stroke-width="1.0"/>
<path d="M144.7 741.4L144.45 737.2L146.96 737.86Z" fill="#333"/>
<text transform="translate(98.9 830.9) scale(0.74 1)" font-family="Liberation Serif" font-size="11.21" font-weight="normal" fill="#262626" textLength="38.92" lengthAdjust="spacing">25-φ0.9</text>
<line x1="99" y1="832.5" x2="134.6" y2="832.5" stroke="#d4d4d4" stroke-width="1.0"/>
<line x1="134.6" y1="832.1" x2="176" y2="736" stroke="#a2a2a2" stroke-width="1.0"/>
<path d="M169.9 747.7L169.56 751.89L167.16 750.89Z" fill="#333"/>
<line x1="170.5" y1="747.4" x2="170.5" y2="840.3" stroke="#a2a2a2" stroke-width="1.0"/>
<line x1="174.5" y1="770.9" x2="174.5" y2="825.7" stroke="#a2a2a2" stroke-width="1.0"/>
<line x1="219.5" y1="782.8" x2="219.5" y2="811" stroke="#a2a2a2" stroke-width="1.0"/>
<line x1="228.5" y1="782.8" x2="228.5" y2="811" stroke="#a2a2a2" stroke-width="1.0"/>
<line x1="273.5" y1="782.8" x2="273.5" y2="823.5" stroke="#a2a2a2" stroke-width="1.0"/>
<line x1="277.5" y1="747.6" x2="277.5" y2="840" stroke="#a2a2a2" stroke-width="1.0"/>
<text transform="translate(187.7 803.4) scale(0.74 1)" font-family="Liberation Serif" font-size="10.3" font-weight="normal" fill="#262626" textLength="25.54" lengthAdjust="spacing">0.955</text>
<line x1="187" y1="806.5" x2="228" y2="806.5" stroke="#d4d4d4" stroke-width="1.0"/>
<path d="M219.4 806.5L215.9 807.8L215.9 805.2Z" fill="#333"/>
<text transform="translate(240.9 807.7) scale(0.74 1)" font-family="Liberation Serif" font-size="11.67" font-weight="normal" fill="#262626" textLength="25.41" lengthAdjust="spacing">0.955</text>
<line x1="212" y1="809.5" x2="261" y2="809.5" stroke="#d4d4d4" stroke-width="1.0"/>
<path d="M228 809.5L231.5 808.2L231.5 810.8Z" fill="#333"/>
<text transform="translate(214.3 821.4) scale(0.74 1)" font-family="Liberation Serif" font-size="11.67" font-weight="normal" fill="#262626" textLength="25.41" lengthAdjust="spacing">20.01</text>
<line x1="174.3" y1="823.5" x2="272.8" y2="823.5" stroke="#a2a2a2" stroke-width="1.0"/>
<path d="M174.3 823.5L178.3 822.2L178.3 824.8Z" fill="#333"/>
<path d="M272.8 823.5L268.8 824.8L268.8 822.2Z" fill="#333"/>
<text transform="translate(214.3 836.9) scale(0.74 1)" font-family="Liberation Serif" font-size="11.82" font-weight="normal" fill="#262626" textLength="25.41" lengthAdjust="spacing">22.92</text>
<line x1="170.6" y1="838.5" x2="276.8" y2="838.5" stroke="#a2a2a2" stroke-width="1.0"/>
<path d="M170.6 838.5L174.6 837.2L174.6 839.8Z" fill="#333"/>
<path d="M276.8 838.5L272.8 839.8L272.8 837.2Z" fill="#333"/>
<text transform="translate(208.3 850.2) scale(0.74 1)" font-family="Liberation Serif" font-size="11.06" font-weight="normal" fill="#262626" textLength="41.62" lengthAdjust="spacing">36±0.05</text>
<line x1="143.5" y1="852.5" x2="303.6" y2="852.5" stroke="#a2a2a2" stroke-width="1.0"/>
<path d="M143.5 852.5L147.5 851.2L147.5 853.8Z" fill="#333"/>
<path d="M303.6 852.5L299.6 853.8L299.6 851.2Z" fill="#333"/>
<text transform="translate(475.1 705.89) scale(0.68 1)" font-family="Liberation Serif" font-size="8.78" fill="#262626" textLength="47.71" lengthAdjust="spacing">印制板边缘</text>
<line x1="475" y1="709.5" x2="510" y2="709.5" stroke="#d4d4d4" stroke-width="1.0"/>
<line x1="475" y1="708.9" x2="466.5" y2="725.3" stroke="#a2a2a2" stroke-width="1.0"/>
<path d="M466.5 725.3L467.19 721.15L469.49 722.35Z" fill="#333"/>
<line x1="407.5" y1="726.5" x2="560.9" y2="726.5" stroke="#2e2b28" stroke-width="1.5"/>
<line x1="563" y1="726.5" x2="576.3" y2="726.5" stroke="#d4d4d4" stroke-width="1.0"/>
<text transform="translate(402.32 745) rotate(-90) scale(0.72 1)" x="0" y="0" font-family="Liberation Serif" font-size="9.45" fill="#262626" textLength="18.61" lengthAdjust="spacing">0.46</text>
<line x1="403.5" y1="731" x2="403.5" y2="767" stroke="#a2a2a2" stroke-width="1.0"/>
<path d="M403.5 754.9L402.2 750.9L404.8 750.9Z" fill="#333"/>
<path d="M403.5 757.3L404.8 761.3L402.2 761.3Z" fill="#333"/>
<line x1="393.4" y1="755.5" x2="540" y2="755.5" stroke="#d4d4d4" stroke-width="1.0"/>
<line x1="395" y1="757.5" x2="586" y2="757.5" stroke="#b4b4b4" stroke-width="1.0" stroke-dasharray="11 2"/>
<circle cx="417.5" cy="757.5" r="6.5" fill="none" stroke="#8c8c8c" stroke-width="0.8"/>
<line x1="417.5" y1="745" x2="417.5" y2="850.1" stroke="#a8a8a8" stroke-width="1.0"/>
<circle cx="554.5" cy="757.5" r="6.5" fill="none" stroke="#8c8c8c" stroke-width="0.8"/>
<line x1="554.5" y1="745" x2="554.5" y2="850" stroke="#a8a8a8" stroke-width="1.0"/>
<line x1="395.5" y1="754.9" x2="395.5" y2="838.4" stroke="#a2a2a2" stroke-width="1.0"/>
<path d="M395.5 754.9L396.8 758.9L394.2 758.9Z" fill="#333"/>
<path d="M395.5 785.2L394.2 781.2L396.8 781.2Z" fill="#333"/>
<text transform="translate(394.12 837.6) rotate(-90) scale(0.72 1)" x="0" y="0" font-family="Liberation Serif" font-size="9.45" fill="#262626" textLength="64.44" lengthAdjust="spacing">2.54×3=7.62</text>
<line x1="393" y1="785.5" x2="530" y2="785.5" stroke="#d4d4d4" stroke-width="1.0"/>
<text transform="translate(459.4 741.1) scale(0.74 1)" font-family="Liberation Serif" font-size="9.55" font-weight="normal" fill="#262626" textLength="17.97" lengthAdjust="spacing">1.91</text>
<text transform="translate(499.5 741.1) scale(0.74 1)" font-family="Liberation Serif" font-size="9.55" font-weight="normal" fill="#262626" textLength="17.03" lengthAdjust="spacing">1.91</text>
<line x1="459" y1="742.5" x2="512" y2="742.5" stroke="#d4d4d4" stroke-width="1.0"/>
<path d="M478.4 742.5L474.9 743.8L474.9 741.2Z" fill="#333"/>
<path d="M485.6 742.5L482.6 743.8L482.6 741.2Z" fill="#333"/>
<path d="M485.6 742.5L488.6 741.2L488.6 743.8Z" fill="#333"/>
<path d="M493.6 742.5L497.1 741.2L497.1 743.8Z" fill="#333"/>
<line x1="478.5" y1="738" x2="478.5" y2="765.4" stroke="#a2a2a2" stroke-width="1.0"/>
<line x1="485.5" y1="735" x2="485.5" y2="812" stroke="#a8a8a8" stroke-width="1.0"/>
<line x1="493.5" y1="738" x2="493.5" y2="765.4" stroke="#a2a2a2" stroke-width="1.0"/>
<circle cx="440.5" cy="755.5" r="2" fill="none" stroke="#8a8a8a" stroke-width="0.75"/>
<path d="M437.7 755.5H443.3M440.5 752.7V758.3" stroke="#8e8e8e" stroke-width="0.9" fill="none"/>
<circle cx="455.5" cy="755.5" r="2" fill="none" stroke="#8a8a8a" stroke-width="0.75"/>
<path d="M452.7 755.5H458.3M455.5 752.7V758.3" stroke="#8e8e8e" stroke-width="0.9" fill="none"/>
<circle cx="470.5" cy="755.5" r="2" fill="none" stroke="#8a8a8a" stroke-width="0.75"/>
<path d="M467.7 755.5H473.3M470.5 752.7V758.3" stroke="#8e8e8e" stroke-width="0.9" fill="none"/>
<circle cx="485.5" cy="755.5" r="2" fill="none" stroke="#8a8a8a" stroke-width="0.75"/>
<path d="M482.7 755.5H488.3M485.5 752.7V758.3" stroke="#8e8e8e" stroke-width="0.9" fill="none"/>
<circle cx="500.5" cy="755.5" r="2" fill="none" stroke="#8a8a8a" stroke-width="0.75"/>
<path d="M497.7 755.5H503.3M500.5 752.7V758.3" stroke="#8e8e8e" stroke-width="0.9" fill="none"/>
<circle cx="515.5" cy="755.5" r="2" fill="none" stroke="#8a8a8a" stroke-width="0.75"/>
<path d="M512.7 755.5H518.3M515.5 752.7V758.3" stroke="#8e8e8e" stroke-width="0.9" fill="none"/>
<circle cx="531.5" cy="755.5" r="2" fill="none" stroke="#8a8a8a" stroke-width="0.75"/>
<path d="M528.7 755.5H534.3M531.5 752.7V758.3" stroke="#8e8e8e" stroke-width="0.9" fill="none"/>
<circle cx="447.5" cy="765.5" r="2" fill="none" stroke="#8a8a8a" stroke-width="0.75"/>
<path d="M444.7 765.5H450.3M447.5 762.7V768.3" stroke="#8e8e8e" stroke-width="0.9" fill="none"/>
<circle cx="463.5" cy="765.5" r="2" fill="none" stroke="#8a8a8a" stroke-width="0.75"/>
<path d="M460.7 765.5H466.3M463.5 762.7V768.3" stroke="#8e8e8e" stroke-width="0.9" fill="none"/>
<circle cx="478.5" cy="765.5" r="2" fill="none" stroke="#8a8a8a" stroke-width="0.75"/>
<path d="M475.7 765.5H481.3M478.5 762.7V768.3" stroke="#8e8e8e" stroke-width="0.9" fill="none"/>
<circle cx="493.5" cy="765.5" r="2" fill="none" stroke="#8a8a8a" stroke-width="0.75"/>
<path d="M490.7 765.5H496.3M493.5 762.7V768.3" stroke="#8e8e8e" stroke-width="0.9" fill="none"/>
<circle cx="508.5" cy="765.5" r="2" fill="none" stroke="#8a8a8a" stroke-width="0.75"/>
<path d="M505.7 765.5H511.3M508.5 762.7V768.3" stroke="#8e8e8e" stroke-width="0.9" fill="none"/>
<circle cx="523.5" cy="765.5" r="2" fill="none" stroke="#8a8a8a" stroke-width="0.75"/>
<path d="M520.7 765.5H526.3M523.5 762.7V768.3" stroke="#8e8e8e" stroke-width="0.9" fill="none"/>
<circle cx="451.5" cy="775.5" r="2" fill="none" stroke="#8a8a8a" stroke-width="0.75"/>
<path d="M448.7 775.5H454.3M451.5 772.7V778.3" stroke="#8e8e8e" stroke-width="0.9" fill="none"/>
<circle cx="466.5" cy="775.5" r="2" fill="none" stroke="#8a8a8a" stroke-width="0.75"/>
<path d="M463.7 775.5H469.3M466.5 772.7V778.3" stroke="#8e8e8e" stroke-width="0.9" fill="none"/>
<circle cx="482.5" cy="775.5" r="2" fill="none" stroke="#8a8a8a" stroke-width="0.75"/>
<path d="M479.7 775.5H485.3M482.5 772.7V778.3" stroke="#8e8e8e" stroke-width="0.9" fill="none"/>
<circle cx="497.5" cy="775.5" r="2" fill="none" stroke="#8a8a8a" stroke-width="0.75"/>
<path d="M494.7 775.5H500.3M497.5 772.7V778.3" stroke="#8e8e8e" stroke-width="0.9" fill="none"/>
<circle cx="512.5" cy="775.5" r="2" fill="none" stroke="#8a8a8a" stroke-width="0.75"/>
<path d="M509.7 775.5H515.3M512.5 772.7V778.3" stroke="#8e8e8e" stroke-width="0.9" fill="none"/>
<circle cx="527.5" cy="775.5" r="2" fill="none" stroke="#8a8a8a" stroke-width="0.75"/>
<path d="M524.7 775.5H530.3M527.5 772.7V778.3" stroke="#8e8e8e" stroke-width="0.9" fill="none"/>
<circle cx="443.5" cy="785.5" r="2" fill="none" stroke="#8a8a8a" stroke-width="0.75"/>
<path d="M440.7 785.5H446.3M443.5 782.7V788.3" stroke="#8e8e8e" stroke-width="0.9" fill="none"/>
<circle cx="459.5" cy="785.5" r="2" fill="none" stroke="#8a8a8a" stroke-width="0.75"/>
<path d="M456.7 785.5H462.3M459.5 782.7V788.3" stroke="#8e8e8e" stroke-width="0.9" fill="none"/>
<circle cx="474.5" cy="785.5" r="2" fill="none" stroke="#8a8a8a" stroke-width="0.75"/>
<path d="M471.7 785.5H477.3M474.5 782.7V788.3" stroke="#8e8e8e" stroke-width="0.9" fill="none"/>
<circle cx="489.5" cy="785.5" r="2" fill="none" stroke="#8a8a8a" stroke-width="0.75"/>
<path d="M486.7 785.5H492.3M489.5 782.7V788.3" stroke="#8e8e8e" stroke-width="0.9" fill="none"/>
<circle cx="504.5" cy="785.5" r="2" fill="none" stroke="#8a8a8a" stroke-width="0.75"/>
<path d="M501.7 785.5H507.3M504.5 782.7V788.3" stroke="#8e8e8e" stroke-width="0.9" fill="none"/>
<circle cx="520.5" cy="785.5" r="2" fill="none" stroke="#8a8a8a" stroke-width="0.75"/>
<path d="M517.7 785.5H523.3M520.5 782.7V788.3" stroke="#8e8e8e" stroke-width="0.9" fill="none"/>
<text x="433.5" y="753.33" font-family="Liberation Serif" font-size="7.5" fill="#262626" textLength="6.2" lengthAdjust="spacingAndGlyphs">13</text>
<text x="448.4" y="753.33" font-family="Liberation Serif" font-size="7.5" fill="#262626" textLength="6.2" lengthAdjust="spacingAndGlyphs">11</text>
<text x="464.55" y="753.33" font-family="Liberation Serif" font-size="7.5" fill="#262626" textLength="3.1" lengthAdjust="spacingAndGlyphs">5</text>
<text x="479.35" y="753.33" font-family="Liberation Serif" font-size="7.5" fill="#262626" textLength="3.1" lengthAdjust="spacingAndGlyphs">7</text>
<text x="501.75" y="753.33" font-family="Liberation Serif" font-size="7.5" fill="#262626" textLength="3.1" lengthAdjust="spacingAndGlyphs">5</text>
<text x="516.85" y="753.33" font-family="Liberation Serif" font-size="7.5" fill="#262626" textLength="3.1" lengthAdjust="spacingAndGlyphs">3</text>
<text x="532.45" y="753.33" font-family="Liberation Serif" font-size="7.5" fill="#262626" textLength="3.1" lengthAdjust="spacingAndGlyphs">1</text>
<text x="441.3" y="763.59" font-family="Liberation Serif" font-size="8.59" fill="#262626" textLength="6.2" lengthAdjust="spacingAndGlyphs">12</text>
<text x="456.3" y="763.59" font-family="Liberation Serif" font-size="8.59" fill="#262626" textLength="6.2" lengthAdjust="spacingAndGlyphs">10</text>
<text x="472.75" y="763.59" font-family="Liberation Serif" font-size="8.59" fill="#262626" textLength="3.1" lengthAdjust="spacingAndGlyphs">8</text>
<text x="495.45" y="763.59" font-family="Liberation Serif" font-size="8.59" fill="#262626" textLength="3.1" lengthAdjust="spacingAndGlyphs">6</text>
<text x="510.05" y="763.59" font-family="Liberation Serif" font-size="8.59" fill="#262626" textLength="3.1" lengthAdjust="spacingAndGlyphs">4</text>
<text x="525.55" y="763.4" font-family="Liberation Serif" font-size="8.32" fill="#262626" textLength="3.1" lengthAdjust="spacingAndGlyphs">2</text>
<text x="453.6" y="773.81" font-family="Liberation Serif" font-size="7.91" fill="#262626" textLength="6.2" lengthAdjust="spacingAndGlyphs">24</text>
<text x="468.4" y="773.81" font-family="Liberation Serif" font-size="7.91" fill="#262626" textLength="6.2" lengthAdjust="spacingAndGlyphs">22</text>
<text x="483.8" y="773.81" font-family="Liberation Serif" font-size="7.91" fill="#262626" textLength="6.2" lengthAdjust="spacingAndGlyphs">20</text>
<text x="499.9" y="773.81" font-family="Liberation Serif" font-size="7.91" fill="#262626" textLength="6.2" lengthAdjust="spacingAndGlyphs">18</text>
<text x="514.8" y="773.81" font-family="Liberation Serif" font-size="7.91" fill="#262626" textLength="6.2" lengthAdjust="spacingAndGlyphs">16</text>
<text x="529.2" y="773.81" font-family="Liberation Serif" font-size="7.91" fill="#262626" textLength="6.2" lengthAdjust="spacingAndGlyphs">14</text>
<text x="444.5" y="793.89" font-family="Liberation Serif" font-size="8.45" fill="#262626" textLength="6.2" lengthAdjust="spacingAndGlyphs">25</text>
<text x="460.2" y="793.89" font-family="Liberation Serif" font-size="8.45" fill="#262626" textLength="6.2" lengthAdjust="spacingAndGlyphs">23</text>
<text x="474.6" y="793.89" font-family="Liberation Serif" font-size="8.45" fill="#262626" textLength="6.2" lengthAdjust="spacingAndGlyphs">21</text>
<text x="490.2" y="793.89" font-family="Liberation Serif" font-size="8.45" fill="#262626" textLength="6.2" lengthAdjust="spacingAndGlyphs">19</text>
<text x="505.5" y="793.89" font-family="Liberation Serif" font-size="8.45" fill="#262626" textLength="6.2" lengthAdjust="spacingAndGlyphs">17</text>
<text x="520.1" y="793.89" font-family="Liberation Serif" font-size="8.45" fill="#262626" textLength="6.2" lengthAdjust="spacingAndGlyphs">15</text>
<line x1="445" y1="765.5" x2="530" y2="765.5" stroke="#d4d4d4" stroke-width="1.0"/>
<line x1="445" y1="775.5" x2="535" y2="775.5" stroke="#d4d4d4" stroke-width="1.0"/>
<line x1="440.5" y1="754.9" x2="440.5" y2="838.4" stroke="#a2a2a2" stroke-width="1.0"/>
<line x1="444.5" y1="785.2" x2="444.5" y2="823.4" stroke="#a2a2a2" stroke-width="1.0"/>
<line x1="482.5" y1="785.2" x2="482.5" y2="810" stroke="#a2a2a2" stroke-width="1.0"/>
<line x1="489.5" y1="785.2" x2="489.5" y2="810" stroke="#a2a2a2" stroke-width="1.0"/>
<line x1="527.5" y1="775.5" x2="527.5" y2="823.5" stroke="#a2a2a2" stroke-width="1.0"/>
<line x1="531.5" y1="754.9" x2="531.5" y2="839" stroke="#a2a2a2" stroke-width="1.0"/>
<text transform="translate(454.6 804.6) scale(0.74 1)" font-family="Liberation Serif" font-size="9.55" font-weight="normal" fill="#262626" textLength="22.3" lengthAdjust="spacing">0.955</text>
<line x1="454" y1="806.5" x2="485.6" y2="806.5" stroke="#d4d4d4" stroke-width="1.0"/>
<path d="M481.8 806.5L478.3 807.8L478.3 805.2Z" fill="#333"/>
<text transform="translate(499.9 808.5) scale(0.74 1)" font-family="Liberation Serif" font-size="10.76" font-weight="normal" fill="#262626" textLength="22.3" lengthAdjust="spacing">0.955</text>
<line x1="478" y1="809.5" x2="517" y2="809.5" stroke="#d4d4d4" stroke-width="1.0"/>
<path d="M489.6 809.5L493.1 808.2L493.1 810.8Z" fill="#333"/>
<text transform="translate(477.9 821.1) scale(0.74 1)" font-family="Liberation Serif" font-size="10.76" font-weight="normal" fill="#262626" textLength="22.3" lengthAdjust="spacing">20.01</text>
<line x1="444.1" y1="822.5" x2="527.4" y2="822.5" stroke="#a2a2a2" stroke-width="1.0"/>
<path d="M444.1 822.5L448.1 821.2L448.1 823.8Z" fill="#333"/>
<path d="M527.4 822.5L523.4 823.8L523.4 821.2Z" fill="#333"/>
<text transform="translate(477.9 835.7) scale(0.74 1)" font-family="Liberation Serif" font-size="10.3" font-weight="normal" fill="#262626" textLength="22.3" lengthAdjust="spacing">22.92</text>
<line x1="440.5" y1="837.5" x2="531.3" y2="837.5" stroke="#a2a2a2" stroke-width="1.0"/>
<path d="M440.5 837.5L444.5 836.2L444.5 838.8Z" fill="#333"/>
<path d="M531.3 837.5L527.3 838.8L527.3 836.2Z" fill="#333"/>
<text transform="translate(472.4 847.8) scale(0.74 1)" font-family="Liberation Serif" font-size="9.55" font-weight="normal" fill="#262626" textLength="36.08" lengthAdjust="spacing">36±0.05</text>
<line x1="417.4" y1="848.5" x2="554.7" y2="848.5" stroke="#a2a2a2" stroke-width="1.0"/>
<path d="M417.4 848.5L421.4 847.2L421.4 849.8Z" fill="#333"/>
<path d="M554.7 848.5L550.7 849.8L550.7 847.2Z" fill="#333"/>
<text transform="translate(543.7 706.1) scale(0.74 1)" font-family="Liberation Serif" font-size="10.15" font-weight="normal" fill="#262626" textLength="32.43" lengthAdjust="spacing">25-φ0.9</text>
<line x1="543.7" y1="707.5" x2="568" y2="707.5" stroke="#d4d4d4" stroke-width="1.0"/>
<line x1="543.7" y1="707.1" x2="529.3" y2="762" stroke="#a2a2a2" stroke-width="1.0"/>
<path d="M531.5 754.5L531.26 750.3L533.77 750.96Z" fill="#333"/>
<text transform="translate(563.4 718.3) scale(0.74 1)" font-family="Liberation Serif" font-size="9.09" font-weight="normal" fill="#262626" textLength="30.14" lengthAdjust="spacing">2-φ3.2</text>
<text transform="translate(586.6 712.3) scale(0.74 1)" font-family="Liberation Serif" font-size="6.52" font-weight="normal" fill="#262626" textLength="12.7" lengthAdjust="spacing">+0.12</text>
<text transform="translate(587.5 718) scale(0.74 1)" font-family="Liberation Serif" font-size="6.06" font-weight="normal" fill="#262626" textLength="4.05" lengthAdjust="spacing">0</text>
<line x1="563" y1="720.5" x2="596" y2="720.5" stroke="#d4d4d4" stroke-width="1.0"/>
<line x1="563" y1="720" x2="556" y2="749.3" stroke="#a2a2a2" stroke-width="1.0"/>
<path d="M556 749.3L555.67 745.11L558.19 745.71Z" fill="#333"/>
<line x1="550.6" y1="773.1" x2="553.1" y2="763.7" stroke="#a2a2a2" stroke-width="1.0"/>
<path d="M553.1 763.7L553.33 767.9L550.82 767.23Z" fill="#333"/>
<line x1="575.5" y1="725.8" x2="575.5" y2="803.1" stroke="#a2a2a2" stroke-width="1.0"/>
<path d="M575.5 726L576.8 730L574.2 730Z" fill="#333"/>
<path d="M575.5 757.1L574.2 753.1L576.8 753.1Z" fill="#333"/>
<text transform="translate(573.42 803.1) rotate(-90) scale(0.72 1)" x="0" y="0" font-family="Liberation Serif" font-size="9.45" fill="#262626" textLength="55.83" lengthAdjust="spacing">8.5-10.9max</text></svg></body></html>
